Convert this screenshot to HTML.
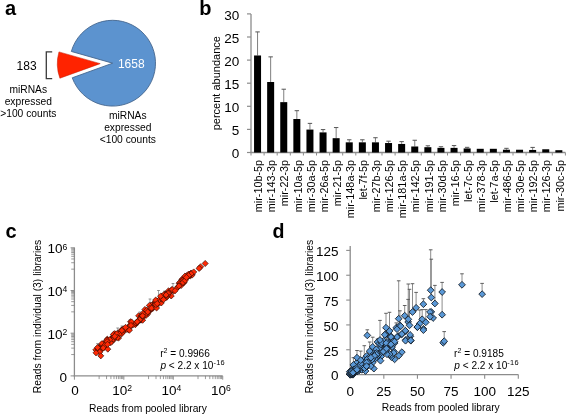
<!DOCTYPE html>
<html><head><meta charset="utf-8"><style>
html,body{margin:0;padding:0;background:#fff;}
svg{display:block;will-change:transform;}
text{font-family:"Liberation Sans", sans-serif;}
</style></head><body>
<svg width="567" height="415" viewBox="0 0 567 415" font-family="Liberation Sans, sans-serif">
<rect width="567" height="415" fill="#fff"/>
<text x="5" y="15.3" font-size="20" font-weight="bold">a</text>
<path d="M112.60,63.20 L71.34,51.45 A42.9,42.9 0 1 1 72.26,77.80 Z" fill="#5c93cf" stroke="#45668e" stroke-width="0.9"/>
<path d="M100.21,63.63 L58.95,51.89 A42.9,42.9 0 0 0 59.87,78.23 Z" fill="#ff2300" stroke="#c01800" stroke-width="0.5"/>
<text x="131.3" y="68.4" font-size="12" fill="#fff" text-anchor="middle">1658</text>
<text x="26.6" y="69.6" font-size="12" text-anchor="middle">183</text>
<path d="M52.2,51.8 H46.3 V78.6 H52.2" fill="none" stroke="#3a3a3a" stroke-width="1.3"/>
<text x="28.3" y="93.4" font-size="10.25" text-anchor="middle">miRNAs</text>
<text x="28.3" y="105.4" font-size="10.25" text-anchor="middle">expressed</text>
<text x="28.3" y="117.4" font-size="10.25" text-anchor="middle">&gt;100 counts</text>
<text x="127.8" y="119.3" font-size="10.25" text-anchor="middle">miRNAs</text>
<text x="127.8" y="131.15" font-size="10.25" text-anchor="middle">expressed</text>
<text x="127.8" y="143.0" font-size="10.25" text-anchor="middle">&lt;100 counts</text>
<text x="199.3" y="15.4" font-size="20" font-weight="bold">b</text>
<line x1="251.0" y1="13.90" x2="251.0" y2="153.0" stroke="#8c8c8c" stroke-width="1.3"/>
<line x1="250.4" y1="152.5" x2="565.40" y2="152.5" stroke="#8c8c8c" stroke-width="1.3"/>
<line x1="247.0" y1="152.50" x2="251.0" y2="152.50" stroke="#8c8c8c" stroke-width="1.2"/>
<text x="239.2" y="158.10" font-size="13.5" text-anchor="end">0</text>
<line x1="247.0" y1="129.40" x2="251.0" y2="129.40" stroke="#8c8c8c" stroke-width="1.2"/>
<text x="239.2" y="135.00" font-size="13.5" text-anchor="end">5</text>
<line x1="247.0" y1="106.30" x2="251.0" y2="106.30" stroke="#8c8c8c" stroke-width="1.2"/>
<text x="239.2" y="111.90" font-size="13.5" text-anchor="end">10</text>
<line x1="247.0" y1="83.20" x2="251.0" y2="83.20" stroke="#8c8c8c" stroke-width="1.2"/>
<text x="239.2" y="88.80" font-size="13.5" text-anchor="end">15</text>
<line x1="247.0" y1="60.10" x2="251.0" y2="60.10" stroke="#8c8c8c" stroke-width="1.2"/>
<text x="239.2" y="65.70" font-size="13.5" text-anchor="end">20</text>
<line x1="247.0" y1="37.00" x2="251.0" y2="37.00" stroke="#8c8c8c" stroke-width="1.2"/>
<text x="239.2" y="42.60" font-size="13.5" text-anchor="end">25</text>
<line x1="247.0" y1="13.90" x2="251.0" y2="13.90" stroke="#8c8c8c" stroke-width="1.2"/>
<text x="239.2" y="19.50" font-size="13.5" text-anchor="end">30</text>
<line x1="251.00" y1="152.5" x2="251.00" y2="155.5" stroke="#8c8c8c" stroke-width="1"/>
<line x1="264.10" y1="152.5" x2="264.10" y2="155.5" stroke="#8c8c8c" stroke-width="1"/>
<line x1="277.20" y1="152.5" x2="277.20" y2="155.5" stroke="#8c8c8c" stroke-width="1"/>
<line x1="290.30" y1="152.5" x2="290.30" y2="155.5" stroke="#8c8c8c" stroke-width="1"/>
<line x1="303.40" y1="152.5" x2="303.40" y2="155.5" stroke="#8c8c8c" stroke-width="1"/>
<line x1="316.50" y1="152.5" x2="316.50" y2="155.5" stroke="#8c8c8c" stroke-width="1"/>
<line x1="329.60" y1="152.5" x2="329.60" y2="155.5" stroke="#8c8c8c" stroke-width="1"/>
<line x1="342.70" y1="152.5" x2="342.70" y2="155.5" stroke="#8c8c8c" stroke-width="1"/>
<line x1="355.80" y1="152.5" x2="355.80" y2="155.5" stroke="#8c8c8c" stroke-width="1"/>
<line x1="368.90" y1="152.5" x2="368.90" y2="155.5" stroke="#8c8c8c" stroke-width="1"/>
<line x1="382.00" y1="152.5" x2="382.00" y2="155.5" stroke="#8c8c8c" stroke-width="1"/>
<line x1="395.10" y1="152.5" x2="395.10" y2="155.5" stroke="#8c8c8c" stroke-width="1"/>
<line x1="408.20" y1="152.5" x2="408.20" y2="155.5" stroke="#8c8c8c" stroke-width="1"/>
<line x1="421.30" y1="152.5" x2="421.30" y2="155.5" stroke="#8c8c8c" stroke-width="1"/>
<line x1="434.40" y1="152.5" x2="434.40" y2="155.5" stroke="#8c8c8c" stroke-width="1"/>
<line x1="447.50" y1="152.5" x2="447.50" y2="155.5" stroke="#8c8c8c" stroke-width="1"/>
<line x1="460.60" y1="152.5" x2="460.60" y2="155.5" stroke="#8c8c8c" stroke-width="1"/>
<line x1="473.70" y1="152.5" x2="473.70" y2="155.5" stroke="#8c8c8c" stroke-width="1"/>
<line x1="486.80" y1="152.5" x2="486.80" y2="155.5" stroke="#8c8c8c" stroke-width="1"/>
<line x1="499.90" y1="152.5" x2="499.90" y2="155.5" stroke="#8c8c8c" stroke-width="1"/>
<line x1="513.00" y1="152.5" x2="513.00" y2="155.5" stroke="#8c8c8c" stroke-width="1"/>
<line x1="526.10" y1="152.5" x2="526.10" y2="155.5" stroke="#8c8c8c" stroke-width="1"/>
<line x1="539.20" y1="152.5" x2="539.20" y2="155.5" stroke="#8c8c8c" stroke-width="1"/>
<line x1="552.30" y1="152.5" x2="552.30" y2="155.5" stroke="#8c8c8c" stroke-width="1"/>
<line x1="565.40" y1="152.5" x2="565.40" y2="155.5" stroke="#8c8c8c" stroke-width="1"/>
<line x1="257.55" y1="31.92" x2="257.55" y2="55.48" stroke="#7f7f7f" stroke-width="1"/>
<line x1="255.35" y1="31.92" x2="259.75" y2="31.92" stroke="#555" stroke-width="1"/>
<rect x="254.05" y="55.48" width="7.0" height="97.02" fill="#000"/>
<text transform="translate(262.25,160) rotate(-90)" font-size="10.8" text-anchor="end">mir-10b-5p</text>
<line x1="270.65" y1="56.87" x2="270.65" y2="82.00" stroke="#7f7f7f" stroke-width="1"/>
<line x1="268.45" y1="56.87" x2="272.85" y2="56.87" stroke="#555" stroke-width="1"/>
<rect x="267.15" y="82.00" width="7.0" height="70.50" fill="#000"/>
<text transform="translate(275.35,160) rotate(-90)" font-size="10.8" text-anchor="end">mir-143-3p</text>
<line x1="283.75" y1="89.21" x2="283.75" y2="102.14" stroke="#7f7f7f" stroke-width="1"/>
<line x1="281.55" y1="89.21" x2="285.95" y2="89.21" stroke="#555" stroke-width="1"/>
<rect x="280.25" y="102.14" width="7.0" height="50.36" fill="#000"/>
<text transform="translate(288.45,160) rotate(-90)" font-size="10.8" text-anchor="end">mir-22-3p</text>
<line x1="296.85" y1="110.69" x2="296.85" y2="119.00" stroke="#7f7f7f" stroke-width="1"/>
<line x1="294.65" y1="110.69" x2="299.05" y2="110.69" stroke="#555" stroke-width="1"/>
<rect x="293.35" y="119.00" width="7.0" height="33.49" fill="#000"/>
<text transform="translate(301.55,160) rotate(-90)" font-size="10.8" text-anchor="end">mir-10a-5p</text>
<line x1="309.95" y1="123.39" x2="309.95" y2="129.58" stroke="#7f7f7f" stroke-width="1"/>
<line x1="307.75" y1="123.39" x2="312.15" y2="123.39" stroke="#555" stroke-width="1"/>
<rect x="306.45" y="129.58" width="7.0" height="22.92" fill="#000"/>
<text transform="translate(314.65,160) rotate(-90)" font-size="10.8" text-anchor="end">mir-30a-5p</text>
<line x1="323.05" y1="129.58" x2="323.05" y2="132.40" stroke="#7f7f7f" stroke-width="1"/>
<line x1="320.85" y1="129.58" x2="325.25" y2="129.58" stroke="#555" stroke-width="1"/>
<rect x="319.55" y="132.40" width="7.0" height="20.10" fill="#000"/>
<text transform="translate(327.75,160) rotate(-90)" font-size="10.8" text-anchor="end">mir-26a-5p</text>
<line x1="336.15" y1="127.55" x2="336.15" y2="138.18" stroke="#7f7f7f" stroke-width="1"/>
<line x1="333.95" y1="127.55" x2="338.35" y2="127.55" stroke="#555" stroke-width="1"/>
<rect x="332.65" y="138.18" width="7.0" height="14.32" fill="#000"/>
<text transform="translate(340.85,160) rotate(-90)" font-size="10.8" text-anchor="end">mir-21-5p</text>
<line x1="349.25" y1="139.79" x2="349.25" y2="142.34" stroke="#7f7f7f" stroke-width="1"/>
<line x1="347.05" y1="139.79" x2="351.45" y2="139.79" stroke="#555" stroke-width="1"/>
<rect x="345.75" y="142.34" width="7.0" height="10.16" fill="#000"/>
<text transform="translate(353.95,160) rotate(-90)" font-size="10.8" text-anchor="end">mir-148a-3p</text>
<line x1="362.35" y1="139.79" x2="362.35" y2="142.34" stroke="#7f7f7f" stroke-width="1"/>
<line x1="360.15" y1="139.79" x2="364.55" y2="139.79" stroke="#555" stroke-width="1"/>
<rect x="358.85" y="142.34" width="7.0" height="10.16" fill="#000"/>
<text transform="translate(367.05,160) rotate(-90)" font-size="10.8" text-anchor="end">let-7f-5p</text>
<line x1="375.45" y1="137.72" x2="375.45" y2="142.34" stroke="#7f7f7f" stroke-width="1"/>
<line x1="373.25" y1="137.72" x2="377.65" y2="137.72" stroke="#555" stroke-width="1"/>
<rect x="371.95" y="142.34" width="7.0" height="10.16" fill="#000"/>
<text transform="translate(380.15,160) rotate(-90)" font-size="10.8" text-anchor="end">mir-27b-3p</text>
<line x1="388.55" y1="141.18" x2="388.55" y2="143.03" stroke="#7f7f7f" stroke-width="1"/>
<line x1="386.35" y1="141.18" x2="390.75" y2="141.18" stroke="#555" stroke-width="1"/>
<rect x="385.05" y="143.03" width="7.0" height="9.47" fill="#000"/>
<text transform="translate(393.25,160) rotate(-90)" font-size="10.8" text-anchor="end">mir-126-5p</text>
<line x1="401.65" y1="141.64" x2="401.65" y2="143.95" stroke="#7f7f7f" stroke-width="1"/>
<line x1="399.45" y1="141.64" x2="403.85" y2="141.64" stroke="#555" stroke-width="1"/>
<rect x="398.15" y="143.95" width="7.0" height="8.55" fill="#000"/>
<text transform="translate(406.35,160) rotate(-90)" font-size="10.8" text-anchor="end">mir-181a-5p</text>
<line x1="414.75" y1="140.26" x2="414.75" y2="146.49" stroke="#7f7f7f" stroke-width="1"/>
<line x1="412.55" y1="140.26" x2="416.95" y2="140.26" stroke="#555" stroke-width="1"/>
<rect x="411.25" y="146.49" width="7.0" height="6.01" fill="#000"/>
<text transform="translate(419.45,160) rotate(-90)" font-size="10.8" text-anchor="end">mir-142-5p</text>
<line x1="427.85" y1="145.80" x2="427.85" y2="147.19" stroke="#7f7f7f" stroke-width="1"/>
<line x1="425.65" y1="145.80" x2="430.05" y2="145.80" stroke="#555" stroke-width="1"/>
<rect x="424.35" y="147.19" width="7.0" height="5.31" fill="#000"/>
<text transform="translate(432.55,160) rotate(-90)" font-size="10.8" text-anchor="end">mir-191-5p</text>
<line x1="440.95" y1="146.72" x2="440.95" y2="147.88" stroke="#7f7f7f" stroke-width="1"/>
<line x1="438.75" y1="146.72" x2="443.15" y2="146.72" stroke="#555" stroke-width="1"/>
<rect x="437.45" y="147.88" width="7.0" height="4.62" fill="#000"/>
<text transform="translate(445.65,160) rotate(-90)" font-size="10.8" text-anchor="end">mir-30d-5p</text>
<line x1="454.05" y1="145.57" x2="454.05" y2="147.88" stroke="#7f7f7f" stroke-width="1"/>
<line x1="451.85" y1="145.57" x2="456.25" y2="145.57" stroke="#555" stroke-width="1"/>
<rect x="450.55" y="147.88" width="7.0" height="4.62" fill="#000"/>
<text transform="translate(458.75,160) rotate(-90)" font-size="10.8" text-anchor="end">mir-16-5p</text>
<line x1="467.15" y1="147.33" x2="467.15" y2="148.43" stroke="#7f7f7f" stroke-width="1"/>
<line x1="464.95" y1="147.33" x2="469.35" y2="147.33" stroke="#555" stroke-width="1"/>
<rect x="463.65" y="148.43" width="7.0" height="4.07" fill="#000"/>
<text transform="translate(471.85,160) rotate(-90)" font-size="10.8" text-anchor="end">let-7c-5p</text>
<rect x="476.75" y="148.80" width="7.0" height="3.70" fill="#000"/>
<text transform="translate(484.95,160) rotate(-90)" font-size="10.8" text-anchor="end">mir-378-3p</text>
<rect x="489.85" y="148.80" width="7.0" height="3.70" fill="#000"/>
<text transform="translate(498.05,160) rotate(-90)" font-size="10.8" text-anchor="end">let-7a-5p</text>
<line x1="506.45" y1="148.34" x2="506.45" y2="149.73" stroke="#7f7f7f" stroke-width="1"/>
<line x1="504.25" y1="148.34" x2="508.65" y2="148.34" stroke="#555" stroke-width="1"/>
<rect x="502.95" y="149.73" width="7.0" height="2.77" fill="#000"/>
<text transform="translate(511.15,160) rotate(-90)" font-size="10.8" text-anchor="end">mir-486-5p</text>
<rect x="516.05" y="149.73" width="7.0" height="2.77" fill="#000"/>
<text transform="translate(524.25,160) rotate(-90)" font-size="10.8" text-anchor="end">mir-30e-5p</text>
<line x1="532.65" y1="147.42" x2="532.65" y2="149.96" stroke="#7f7f7f" stroke-width="1"/>
<line x1="530.45" y1="147.42" x2="534.85" y2="147.42" stroke="#555" stroke-width="1"/>
<rect x="529.15" y="149.96" width="7.0" height="2.54" fill="#000"/>
<text transform="translate(537.35,160) rotate(-90)" font-size="10.8" text-anchor="end">mir-192-5p</text>
<rect x="542.25" y="149.27" width="7.0" height="3.23" fill="#000"/>
<text transform="translate(550.45,160) rotate(-90)" font-size="10.8" text-anchor="end">mir-126-3p</text>
<rect x="555.35" y="150.19" width="7.0" height="2.31" fill="#000"/>
<text transform="translate(563.55,160) rotate(-90)" font-size="10.8" text-anchor="end">mir-30c-5p</text>
<text transform="translate(220.3,83.2) rotate(-90)" font-size="11" text-anchor="middle">percent abundance</text>

<text x="5.5" y="237.6" font-size="20" font-weight="bold">c</text>
<line x1="74.4" y1="247.40" x2="74.4" y2="376.5" stroke="#8c8c8c" stroke-width="1.3"/>
<line x1="73.80000000000001" y1="375.9" x2="222.72" y2="375.9" stroke="#8c8c8c" stroke-width="1.3"/>
<line x1="71.2" y1="354.55" x2="74.4" y2="354.55" stroke="#7a7a7a" stroke-width="0.75"/>
<line x1="99.12" y1="375.9" x2="99.12" y2="379.09999999999997" stroke="#7a7a7a" stroke-width="0.75"/>
<line x1="71.2" y1="348.12" x2="74.4" y2="348.12" stroke="#7a7a7a" stroke-width="0.75"/>
<line x1="106.56" y1="375.9" x2="106.56" y2="379.09999999999997" stroke="#7a7a7a" stroke-width="0.75"/>
<line x1="71.2" y1="344.36" x2="74.4" y2="344.36" stroke="#7a7a7a" stroke-width="0.75"/>
<line x1="110.91" y1="375.9" x2="110.91" y2="379.09999999999997" stroke="#7a7a7a" stroke-width="0.75"/>
<line x1="71.2" y1="341.70" x2="74.4" y2="341.70" stroke="#7a7a7a" stroke-width="0.75"/>
<line x1="114.00" y1="375.9" x2="114.00" y2="379.09999999999997" stroke="#7a7a7a" stroke-width="0.75"/>
<line x1="71.2" y1="339.63" x2="74.4" y2="339.63" stroke="#7a7a7a" stroke-width="0.75"/>
<line x1="116.40" y1="375.9" x2="116.40" y2="379.09999999999997" stroke="#7a7a7a" stroke-width="0.75"/>
<line x1="71.2" y1="337.94" x2="74.4" y2="337.94" stroke="#7a7a7a" stroke-width="0.75"/>
<line x1="118.36" y1="375.9" x2="118.36" y2="379.09999999999997" stroke="#7a7a7a" stroke-width="0.75"/>
<line x1="71.2" y1="336.51" x2="74.4" y2="336.51" stroke="#7a7a7a" stroke-width="0.75"/>
<line x1="120.01" y1="375.9" x2="120.01" y2="379.09999999999997" stroke="#7a7a7a" stroke-width="0.75"/>
<line x1="71.2" y1="335.27" x2="74.4" y2="335.27" stroke="#7a7a7a" stroke-width="0.75"/>
<line x1="121.44" y1="375.9" x2="121.44" y2="379.09999999999997" stroke="#7a7a7a" stroke-width="0.75"/>
<line x1="71.2" y1="334.18" x2="74.4" y2="334.18" stroke="#7a7a7a" stroke-width="0.75"/>
<line x1="122.71" y1="375.9" x2="122.71" y2="379.09999999999997" stroke="#7a7a7a" stroke-width="0.75"/>
<line x1="71.2" y1="311.85" x2="74.4" y2="311.85" stroke="#7a7a7a" stroke-width="0.75"/>
<line x1="148.56" y1="375.9" x2="148.56" y2="379.09999999999997" stroke="#7a7a7a" stroke-width="0.75"/>
<line x1="71.2" y1="305.42" x2="74.4" y2="305.42" stroke="#7a7a7a" stroke-width="0.75"/>
<line x1="156.00" y1="375.9" x2="156.00" y2="379.09999999999997" stroke="#7a7a7a" stroke-width="0.75"/>
<line x1="71.2" y1="301.66" x2="74.4" y2="301.66" stroke="#7a7a7a" stroke-width="0.75"/>
<line x1="160.35" y1="375.9" x2="160.35" y2="379.09999999999997" stroke="#7a7a7a" stroke-width="0.75"/>
<line x1="71.2" y1="299.00" x2="74.4" y2="299.00" stroke="#7a7a7a" stroke-width="0.75"/>
<line x1="163.44" y1="375.9" x2="163.44" y2="379.09999999999997" stroke="#7a7a7a" stroke-width="0.75"/>
<line x1="71.2" y1="296.93" x2="74.4" y2="296.93" stroke="#7a7a7a" stroke-width="0.75"/>
<line x1="165.84" y1="375.9" x2="165.84" y2="379.09999999999997" stroke="#7a7a7a" stroke-width="0.75"/>
<line x1="71.2" y1="295.24" x2="74.4" y2="295.24" stroke="#7a7a7a" stroke-width="0.75"/>
<line x1="167.80" y1="375.9" x2="167.80" y2="379.09999999999997" stroke="#7a7a7a" stroke-width="0.75"/>
<line x1="71.2" y1="293.81" x2="74.4" y2="293.81" stroke="#7a7a7a" stroke-width="0.75"/>
<line x1="169.45" y1="375.9" x2="169.45" y2="379.09999999999997" stroke="#7a7a7a" stroke-width="0.75"/>
<line x1="71.2" y1="292.57" x2="74.4" y2="292.57" stroke="#7a7a7a" stroke-width="0.75"/>
<line x1="170.88" y1="375.9" x2="170.88" y2="379.09999999999997" stroke="#7a7a7a" stroke-width="0.75"/>
<line x1="71.2" y1="291.48" x2="74.4" y2="291.48" stroke="#7a7a7a" stroke-width="0.75"/>
<line x1="172.15" y1="375.9" x2="172.15" y2="379.09999999999997" stroke="#7a7a7a" stroke-width="0.75"/>
<line x1="71.2" y1="269.15" x2="74.4" y2="269.15" stroke="#7a7a7a" stroke-width="0.75"/>
<line x1="198.00" y1="375.9" x2="198.00" y2="379.09999999999997" stroke="#7a7a7a" stroke-width="0.75"/>
<line x1="71.2" y1="262.72" x2="74.4" y2="262.72" stroke="#7a7a7a" stroke-width="0.75"/>
<line x1="205.44" y1="375.9" x2="205.44" y2="379.09999999999997" stroke="#7a7a7a" stroke-width="0.75"/>
<line x1="71.2" y1="258.96" x2="74.4" y2="258.96" stroke="#7a7a7a" stroke-width="0.75"/>
<line x1="209.79" y1="375.9" x2="209.79" y2="379.09999999999997" stroke="#7a7a7a" stroke-width="0.75"/>
<line x1="71.2" y1="256.30" x2="74.4" y2="256.30" stroke="#7a7a7a" stroke-width="0.75"/>
<line x1="212.88" y1="375.9" x2="212.88" y2="379.09999999999997" stroke="#7a7a7a" stroke-width="0.75"/>
<line x1="71.2" y1="254.23" x2="74.4" y2="254.23" stroke="#7a7a7a" stroke-width="0.75"/>
<line x1="215.28" y1="375.9" x2="215.28" y2="379.09999999999997" stroke="#7a7a7a" stroke-width="0.75"/>
<line x1="71.2" y1="252.54" x2="74.4" y2="252.54" stroke="#7a7a7a" stroke-width="0.75"/>
<line x1="217.24" y1="375.9" x2="217.24" y2="379.09999999999997" stroke="#7a7a7a" stroke-width="0.75"/>
<line x1="71.2" y1="251.11" x2="74.4" y2="251.11" stroke="#7a7a7a" stroke-width="0.75"/>
<line x1="218.89" y1="375.9" x2="218.89" y2="379.09999999999997" stroke="#7a7a7a" stroke-width="0.75"/>
<line x1="71.2" y1="249.87" x2="74.4" y2="249.87" stroke="#7a7a7a" stroke-width="0.75"/>
<line x1="220.32" y1="375.9" x2="220.32" y2="379.09999999999997" stroke="#7a7a7a" stroke-width="0.75"/>
<line x1="71.2" y1="248.78" x2="74.4" y2="248.78" stroke="#7a7a7a" stroke-width="0.75"/>
<line x1="221.59" y1="375.9" x2="221.59" y2="379.09999999999997" stroke="#7a7a7a" stroke-width="0.75"/>
<line x1="70.60000000000001" y1="375.90" x2="74.4" y2="375.90" stroke="#8c8c8c" stroke-width="1"/>
<line x1="74.40" y1="375.9" x2="74.40" y2="379.7" stroke="#8c8c8c" stroke-width="1"/>
<line x1="70.60000000000001" y1="333.20" x2="74.4" y2="333.20" stroke="#8c8c8c" stroke-width="1"/>
<line x1="123.84" y1="375.9" x2="123.84" y2="379.7" stroke="#8c8c8c" stroke-width="1"/>
<line x1="70.60000000000001" y1="290.50" x2="74.4" y2="290.50" stroke="#8c8c8c" stroke-width="1"/>
<line x1="173.28" y1="375.9" x2="173.28" y2="379.7" stroke="#8c8c8c" stroke-width="1"/>
<line x1="70.60000000000001" y1="247.80" x2="74.4" y2="247.80" stroke="#8c8c8c" stroke-width="1"/>
<line x1="222.72" y1="375.9" x2="222.72" y2="379.7" stroke="#8c8c8c" stroke-width="1"/>
<text x="67" y="381.70" font-size="13.5" text-anchor="end">0</text>
<text x="67.3" y="338.80" font-size="13.5" text-anchor="end">10<tspan font-size="8.6" dy="-3.9">2</tspan></text>
<text x="67.3" y="296.10" font-size="13.5" text-anchor="end">10<tspan font-size="8.6" dy="-3.9">4</tspan></text>
<text x="67.3" y="253.40" font-size="13.5" text-anchor="end">10<tspan font-size="8.6" dy="-3.9">6</tspan></text>
<text x="74.90" y="394.9" font-size="13.5" text-anchor="middle">0</text>
<text x="122.04" y="394.9" font-size="13.5" text-anchor="middle">10<tspan font-size="8.6" dy="-3.9">2</tspan></text>
<text x="171.48" y="394.9" font-size="13.5" text-anchor="middle">10<tspan font-size="8.6" dy="-3.9">4</tspan></text>
<text x="220.92" y="394.9" font-size="13.5" text-anchor="middle">10<tspan font-size="8.6" dy="-3.9">6</tspan></text>
<text transform="translate(40.6,316.5) rotate(-90)" font-size="10.3" text-anchor="middle">Reads from individual (3) libraries</text>
<text x="148" y="411.6" font-size="10.3" text-anchor="middle">Reads from pooled library</text>
<text x="160.2" y="356.6" font-size="10.1">r<tspan font-size="7" dy="-3.2">2</tspan><tspan dy="3.2"> = 0.9966</tspan></text>
<text x="160.4" y="368.5" font-size="10.1"><tspan font-style="italic">p</tspan> &lt; 2.2 x 10<tspan font-size="7.4" dy="-3.6" letter-spacing="0.25">-16</tspan></text>
<line x1="97.5" y1="343.7" x2="97.5" y2="347.6" stroke="#808080" stroke-width="0.7"/>
<line x1="96.1" y1="343.7" x2="98.9" y2="343.7" stroke="#666" stroke-width="0.7"/>
<line x1="103.3" y1="342.3" x2="103.3" y2="348.0" stroke="#808080" stroke-width="0.7"/>
<line x1="101.9" y1="342.3" x2="104.7" y2="342.3" stroke="#666" stroke-width="0.7"/>
<line x1="109.9" y1="338.6" x2="109.9" y2="341.3" stroke="#808080" stroke-width="0.7"/>
<line x1="108.5" y1="338.6" x2="111.3" y2="338.6" stroke="#666" stroke-width="0.7"/>
<line x1="117.7" y1="328.0" x2="117.7" y2="335.3" stroke="#808080" stroke-width="0.7"/>
<line x1="116.3" y1="328.0" x2="119.1" y2="328.0" stroke="#666" stroke-width="0.7"/>
<line x1="158.5" y1="290.5" x2="158.5" y2="296.0" stroke="#808080" stroke-width="0.7"/>
<line x1="157.1" y1="290.5" x2="159.9" y2="290.5" stroke="#666" stroke-width="0.7"/>
<line x1="164.6" y1="291.2" x2="164.6" y2="298.0" stroke="#808080" stroke-width="0.7"/>
<line x1="163.2" y1="291.2" x2="166.0" y2="291.2" stroke="#666" stroke-width="0.7"/>
<line x1="173.0" y1="283.5" x2="173.0" y2="289.0" stroke="#808080" stroke-width="0.7"/>
<line x1="171.6" y1="283.5" x2="174.4" y2="283.5" stroke="#666" stroke-width="0.7"/>
<line x1="150.0" y1="299.0" x2="150.0" y2="306.0" stroke="#808080" stroke-width="0.7"/>
<line x1="148.6" y1="299.0" x2="151.4" y2="299.0" stroke="#666" stroke-width="0.7"/>
<line x1="186.0" y1="275.0" x2="186.0" y2="280.0" stroke="#808080" stroke-width="0.7"/>
<line x1="184.6" y1="275.0" x2="187.4" y2="275.0" stroke="#666" stroke-width="0.7"/>
<line x1="140.0" y1="312.0" x2="140.0" y2="318.0" stroke="#808080" stroke-width="0.7"/>
<line x1="138.6" y1="312.0" x2="141.4" y2="312.0" stroke="#666" stroke-width="0.7"/>
<line x1="130.0" y1="320.0" x2="130.0" y2="326.0" stroke="#808080" stroke-width="0.7"/>
<line x1="128.6" y1="320.0" x2="131.4" y2="320.0" stroke="#666" stroke-width="0.7"/>
<line x1="122.0" y1="326.0" x2="122.0" y2="332.0" stroke="#808080" stroke-width="0.7"/>
<line x1="120.6" y1="326.0" x2="123.4" y2="326.0" stroke="#666" stroke-width="0.7"/>
<line x1="112.0" y1="335.0" x2="112.0" y2="339.0" stroke="#808080" stroke-width="0.7"/>
<line x1="110.6" y1="335.0" x2="113.4" y2="335.0" stroke="#666" stroke-width="0.7"/>
<path d="M138.6,312.7L141.7,315.8L138.6,318.8L135.6,315.8Z" fill="#ff2a05" stroke="#2e0a02" stroke-width="0.65"/>
<path d="M141.0,313.1L144.1,316.1L141.0,319.2L138.0,316.1Z" fill="#ff2a05" stroke="#2e0a02" stroke-width="0.65"/>
<path d="M145.0,309.7L148.0,312.8L145.0,315.8L141.9,312.8Z" fill="#ff2a05" stroke="#2e0a02" stroke-width="0.65"/>
<path d="M145.5,309.6L148.6,312.6L145.5,315.7L142.5,312.6Z" fill="#ff2a05" stroke="#2e0a02" stroke-width="0.65"/>
<path d="M156.6,300.1L159.7,303.2L156.6,306.2L153.6,303.2Z" fill="#ff2a05" stroke="#2e0a02" stroke-width="0.65"/>
<path d="M125.6,326.0L128.7,329.1L125.6,332.1L122.6,329.1Z" fill="#ff2a05" stroke="#2e0a02" stroke-width="0.65"/>
<path d="M105.3,342.7L108.4,345.8L105.3,348.8L102.3,345.8Z" fill="#ff2a05" stroke="#2e0a02" stroke-width="0.65"/>
<path d="M98.9,344.4L101.9,347.4L98.9,350.5L95.8,347.4Z" fill="#ff2a05" stroke="#2e0a02" stroke-width="0.65"/>
<path d="M190.4,272.8L193.5,275.8L190.4,278.9L187.4,275.8Z" fill="#ff2a05" stroke="#2e0a02" stroke-width="0.65"/>
<path d="M154.8,300.7L157.9,303.8L154.8,306.8L151.8,303.8Z" fill="#ff2a05" stroke="#2e0a02" stroke-width="0.65"/>
<path d="M112.2,338.1L115.3,341.1L112.2,344.2L109.2,341.1Z" fill="#ff2a05" stroke="#2e0a02" stroke-width="0.65"/>
<path d="M102.0,344.7L105.0,347.8L102.0,350.8L98.9,347.8Z" fill="#ff2a05" stroke="#2e0a02" stroke-width="0.65"/>
<path d="M114.1,334.0L117.2,337.0L114.1,340.1L111.1,337.0Z" fill="#ff2a05" stroke="#2e0a02" stroke-width="0.65"/>
<path d="M141.9,314.5L144.9,317.5L141.9,320.6L138.8,317.5Z" fill="#ff2a05" stroke="#2e0a02" stroke-width="0.65"/>
<path d="M140.1,316.9L143.2,320.0L140.1,323.0L137.1,320.0Z" fill="#ff2a05" stroke="#2e0a02" stroke-width="0.65"/>
<path d="M156.6,298.0L159.6,301.0L156.6,304.1L153.5,301.0Z" fill="#ff2a05" stroke="#2e0a02" stroke-width="0.65"/>
<path d="M144.2,310.4L147.3,313.4L144.2,316.5L141.2,313.4Z" fill="#ff2a05" stroke="#2e0a02" stroke-width="0.65"/>
<path d="M122.4,327.0L125.5,330.1L122.4,333.1L119.4,330.1Z" fill="#ff2a05" stroke="#2e0a02" stroke-width="0.65"/>
<path d="M192.2,271.9L195.3,275.0L192.2,278.0L189.2,275.0Z" fill="#ff2a05" stroke="#2e0a02" stroke-width="0.65"/>
<path d="M164.1,293.9L167.1,297.0L164.1,300.0L161.0,297.0Z" fill="#ff2a05" stroke="#2e0a02" stroke-width="0.65"/>
<path d="M127.4,325.9L130.4,328.9L127.4,332.0L124.3,328.9Z" fill="#ff2a05" stroke="#2e0a02" stroke-width="0.65"/>
<path d="M103.7,344.7L106.7,347.7L103.7,350.8L100.6,347.7Z" fill="#ff2a05" stroke="#2e0a02" stroke-width="0.65"/>
<path d="M168.5,287.8L171.5,290.9L168.5,293.9L165.4,290.9Z" fill="#ff2a05" stroke="#2e0a02" stroke-width="0.65"/>
<path d="M135.3,321.7L138.4,324.7L135.3,327.8L132.3,324.7Z" fill="#ff2a05" stroke="#2e0a02" stroke-width="0.65"/>
<path d="M187.3,273.7L190.4,276.7L187.3,279.8L184.3,276.7Z" fill="#ff2a05" stroke="#2e0a02" stroke-width="0.65"/>
<path d="M116.0,332.5L119.1,335.5L116.0,338.6L113.0,335.5Z" fill="#ff2a05" stroke="#2e0a02" stroke-width="0.65"/>
<path d="M181.9,276.3L185.0,279.3L181.9,282.4L178.9,279.3Z" fill="#ff2a05" stroke="#2e0a02" stroke-width="0.65"/>
<path d="M135.8,320.1L138.9,323.2L135.8,326.2L132.8,323.2Z" fill="#ff2a05" stroke="#2e0a02" stroke-width="0.65"/>
<path d="M102.0,342.1L105.1,345.2L102.0,348.2L99.0,345.2Z" fill="#ff2a05" stroke="#2e0a02" stroke-width="0.65"/>
<path d="M121.3,327.2L124.3,330.2L121.3,333.3L118.2,330.2Z" fill="#ff2a05" stroke="#2e0a02" stroke-width="0.65"/>
<path d="M103.3,340.9L106.3,343.9L103.3,347.0L100.2,343.9Z" fill="#ff2a05" stroke="#2e0a02" stroke-width="0.65"/>
<path d="M171.2,292.9L174.3,295.9L171.2,299.0L168.2,295.9Z" fill="#ff2a05" stroke="#2e0a02" stroke-width="0.65"/>
<path d="M107.4,339.9L110.4,342.9L107.4,346.0L104.3,342.9Z" fill="#ff2a05" stroke="#2e0a02" stroke-width="0.65"/>
<path d="M102.4,345.1L105.4,348.2L102.4,351.2L99.3,348.2Z" fill="#ff2a05" stroke="#2e0a02" stroke-width="0.65"/>
<path d="M173.6,288.1L176.6,291.2L173.6,294.2L170.5,291.2Z" fill="#ff2a05" stroke="#2e0a02" stroke-width="0.65"/>
<path d="M141.2,316.9L144.3,320.0L141.2,323.0L138.2,320.0Z" fill="#ff2a05" stroke="#2e0a02" stroke-width="0.65"/>
<path d="M114.1,333.9L117.2,336.9L114.1,340.0L111.1,336.9Z" fill="#ff2a05" stroke="#2e0a02" stroke-width="0.65"/>
<path d="M157.4,298.3L160.4,301.3L157.4,304.4L154.3,301.3Z" fill="#ff2a05" stroke="#2e0a02" stroke-width="0.65"/>
<path d="M106.6,339.3L109.7,342.3L106.6,345.4L103.6,342.3Z" fill="#ff2a05" stroke="#2e0a02" stroke-width="0.65"/>
<path d="M122.8,329.1L125.8,332.1L122.8,335.2L119.7,332.1Z" fill="#ff2a05" stroke="#2e0a02" stroke-width="0.65"/>
<path d="M188.7,272.9L191.8,275.9L188.7,279.0L185.7,275.9Z" fill="#ff2a05" stroke="#2e0a02" stroke-width="0.65"/>
<path d="M180.9,279.9L183.9,282.9L180.9,286.0L177.8,282.9Z" fill="#ff2a05" stroke="#2e0a02" stroke-width="0.65"/>
<path d="M114.7,330.6L117.7,333.7L114.7,336.7L111.6,333.7Z" fill="#ff2a05" stroke="#2e0a02" stroke-width="0.65"/>
<path d="M158.8,300.5L161.9,303.5L158.8,306.6L155.8,303.5Z" fill="#ff2a05" stroke="#2e0a02" stroke-width="0.65"/>
<path d="M106.4,342.1L109.4,345.1L106.4,348.2L103.3,345.1Z" fill="#ff2a05" stroke="#2e0a02" stroke-width="0.65"/>
<path d="M121.2,329.4L124.2,332.4L121.2,335.5L118.1,332.4Z" fill="#ff2a05" stroke="#2e0a02" stroke-width="0.65"/>
<path d="M170.2,288.7L173.3,291.8L170.2,294.8L167.2,291.8Z" fill="#ff2a05" stroke="#2e0a02" stroke-width="0.65"/>
<path d="M103.9,344.3L106.9,347.4L103.9,350.4L100.8,347.4Z" fill="#ff2a05" stroke="#2e0a02" stroke-width="0.65"/>
<path d="M104.1,341.4L107.2,344.4L104.1,347.5L101.1,344.4Z" fill="#ff2a05" stroke="#2e0a02" stroke-width="0.65"/>
<path d="M153.4,301.8L156.4,304.8L153.4,307.9L150.3,304.8Z" fill="#ff2a05" stroke="#2e0a02" stroke-width="0.65"/>
<path d="M130.5,318.7L133.6,321.7L130.5,324.8L127.5,321.7Z" fill="#ff2a05" stroke="#2e0a02" stroke-width="0.65"/>
<path d="M144.1,313.3L147.1,316.4L144.1,319.4L141.0,316.4Z" fill="#ff2a05" stroke="#2e0a02" stroke-width="0.65"/>
<path d="M151.8,305.0L154.8,308.0L151.8,311.1L148.7,308.0Z" fill="#ff2a05" stroke="#2e0a02" stroke-width="0.65"/>
<path d="M110.3,336.4L113.4,339.4L110.3,342.5L107.3,339.4Z" fill="#ff2a05" stroke="#2e0a02" stroke-width="0.65"/>
<path d="M183.3,278.4L186.4,281.4L183.3,284.5L180.3,281.4Z" fill="#ff2a05" stroke="#2e0a02" stroke-width="0.65"/>
<path d="M113.4,333.2L116.5,336.2L113.4,339.3L110.4,336.2Z" fill="#ff2a05" stroke="#2e0a02" stroke-width="0.65"/>
<path d="M167.8,292.3L170.9,295.4L167.8,298.4L164.8,295.4Z" fill="#ff2a05" stroke="#2e0a02" stroke-width="0.65"/>
<path d="M186.4,274.1L189.5,277.1L186.4,280.2L183.4,277.1Z" fill="#ff2a05" stroke="#2e0a02" stroke-width="0.65"/>
<path d="M180.6,280.1L183.7,283.2L180.6,286.2L177.6,283.2Z" fill="#ff2a05" stroke="#2e0a02" stroke-width="0.65"/>
<path d="M105.4,340.3L108.5,343.3L105.4,346.4L102.4,343.3Z" fill="#ff2a05" stroke="#2e0a02" stroke-width="0.65"/>
<path d="M100.6,347.1L103.7,350.2L100.6,353.2L97.6,350.2Z" fill="#ff2a05" stroke="#2e0a02" stroke-width="0.65"/>
<path d="M163.6,294.0L166.7,297.1L163.6,300.1L160.6,297.1Z" fill="#ff2a05" stroke="#2e0a02" stroke-width="0.65"/>
<path d="M121.7,330.2L124.7,333.2L121.7,336.3L118.6,333.2Z" fill="#ff2a05" stroke="#2e0a02" stroke-width="0.65"/>
<path d="M123.8,325.8L126.9,328.8L123.8,331.9L120.8,328.8Z" fill="#ff2a05" stroke="#2e0a02" stroke-width="0.65"/>
<path d="M112.7,335.1L115.7,338.1L112.7,341.2L109.6,338.1Z" fill="#ff2a05" stroke="#2e0a02" stroke-width="0.65"/>
<path d="M117.7,330.9L120.7,333.9L117.7,337.0L114.6,333.9Z" fill="#ff2a05" stroke="#2e0a02" stroke-width="0.65"/>
<path d="M150.8,306.8L153.9,309.8L150.8,312.9L147.8,309.8Z" fill="#ff2a05" stroke="#2e0a02" stroke-width="0.65"/>
<path d="M122.5,326.7L125.6,329.8L122.5,332.8L119.5,329.8Z" fill="#ff2a05" stroke="#2e0a02" stroke-width="0.65"/>
<path d="M183.9,277.4L187.0,280.4L183.9,283.5L180.9,280.4Z" fill="#ff2a05" stroke="#2e0a02" stroke-width="0.65"/>
<path d="M122.5,328.9L125.6,332.0L122.5,335.0L119.5,332.0Z" fill="#ff2a05" stroke="#2e0a02" stroke-width="0.65"/>
<path d="M140.5,316.4L143.6,319.5L140.5,322.5L137.5,319.5Z" fill="#ff2a05" stroke="#2e0a02" stroke-width="0.65"/>
<path d="M132.8,322.0L135.8,325.0L132.8,328.1L129.7,325.0Z" fill="#ff2a05" stroke="#2e0a02" stroke-width="0.65"/>
<path d="M151.8,305.5L154.8,308.5L151.8,311.6L148.7,308.5Z" fill="#ff2a05" stroke="#2e0a02" stroke-width="0.65"/>
<path d="M182.1,280.3L185.2,283.3L182.1,286.4L179.1,283.3Z" fill="#ff2a05" stroke="#2e0a02" stroke-width="0.65"/>
<path d="M189.1,271.5L192.2,274.5L189.1,277.6L186.1,274.5Z" fill="#ff2a05" stroke="#2e0a02" stroke-width="0.65"/>
<path d="M151.0,302.1L154.1,305.2L151.0,308.2L148.0,305.2Z" fill="#ff2a05" stroke="#2e0a02" stroke-width="0.65"/>
<path d="M109.6,338.2L112.7,341.3L109.6,344.3L106.6,341.3Z" fill="#ff2a05" stroke="#2e0a02" stroke-width="0.65"/>
<path d="M183.3,278.0L186.4,281.1L183.3,284.1L180.3,281.1Z" fill="#ff2a05" stroke="#2e0a02" stroke-width="0.65"/>
<path d="M163.6,294.7L166.7,297.8L163.6,300.8L160.6,297.8Z" fill="#ff2a05" stroke="#2e0a02" stroke-width="0.65"/>
<path d="M157.1,299.4L160.1,302.5L157.1,305.5L154.0,302.5Z" fill="#ff2a05" stroke="#2e0a02" stroke-width="0.65"/>
<path d="M143.2,312.5L146.2,315.5L143.2,318.6L140.1,315.5Z" fill="#ff2a05" stroke="#2e0a02" stroke-width="0.65"/>
<path d="M191.0,270.1L194.0,273.1L191.0,276.2L187.9,273.1Z" fill="#ff2a05" stroke="#2e0a02" stroke-width="0.65"/>
<path d="M101.9,341.5L104.9,344.5L101.9,347.6L98.8,344.5Z" fill="#ff2a05" stroke="#2e0a02" stroke-width="0.65"/>
<path d="M182.3,278.7L185.3,281.7L182.3,284.8L179.2,281.7Z" fill="#ff2a05" stroke="#2e0a02" stroke-width="0.65"/>
<path d="M166.5,291.2L169.6,294.2L166.5,297.3L163.5,294.2Z" fill="#ff2a05" stroke="#2e0a02" stroke-width="0.65"/>
<path d="M182.8,276.5L185.9,279.5L182.8,282.6L179.8,279.5Z" fill="#ff2a05" stroke="#2e0a02" stroke-width="0.65"/>
<path d="M130.1,322.0L133.1,325.1L130.1,328.1L127.0,325.1Z" fill="#ff2a05" stroke="#2e0a02" stroke-width="0.65"/>
<path d="M179.2,280.5L182.2,283.5L179.2,286.6L176.1,283.5Z" fill="#ff2a05" stroke="#2e0a02" stroke-width="0.65"/>
<path d="M137.7,318.5L140.8,321.6L137.7,324.6L134.7,321.6Z" fill="#ff2a05" stroke="#2e0a02" stroke-width="0.65"/>
<path d="M149.4,302.4L152.4,305.4L149.4,308.5L146.3,305.4Z" fill="#ff2a05" stroke="#2e0a02" stroke-width="0.65"/>
<path d="M155.1,299.2L158.2,302.3L155.1,305.3L152.1,302.3Z" fill="#ff2a05" stroke="#2e0a02" stroke-width="0.65"/>
<path d="M155.3,302.6L158.4,305.7L155.3,308.7L152.3,305.7Z" fill="#ff2a05" stroke="#2e0a02" stroke-width="0.65"/>
<path d="M101.9,340.6L105.0,343.6L101.9,346.7L98.9,343.6Z" fill="#ff2a05" stroke="#2e0a02" stroke-width="0.65"/>
<path d="M179.6,279.4L182.7,282.4L179.6,285.5L176.6,282.4Z" fill="#ff2a05" stroke="#2e0a02" stroke-width="0.65"/>
<path d="M164.9,290.9L168.0,294.0L164.9,297.0L161.9,294.0Z" fill="#ff2a05" stroke="#2e0a02" stroke-width="0.65"/>
<path d="M152.9,305.2L156.0,308.2L152.9,311.3L149.9,308.2Z" fill="#ff2a05" stroke="#2e0a02" stroke-width="0.65"/>
<path d="M139.7,316.4L142.7,319.4L139.7,322.5L136.6,319.4Z" fill="#ff2a05" stroke="#2e0a02" stroke-width="0.65"/>
<path d="M168.0,290.4L171.0,293.4L168.0,296.5L164.9,293.4Z" fill="#ff2a05" stroke="#2e0a02" stroke-width="0.65"/>
<path d="M98.2,345.9L101.3,349.0L98.2,352.0L95.2,349.0Z" fill="#ff2a05" stroke="#2e0a02" stroke-width="0.65"/>
<path d="M117.6,330.4L120.6,333.4L117.6,336.5L114.5,333.4Z" fill="#ff2a05" stroke="#2e0a02" stroke-width="0.65"/>
<path d="M161.9,293.1L164.9,296.1L161.9,299.2L158.8,296.1Z" fill="#ff2a05" stroke="#2e0a02" stroke-width="0.65"/>
<path d="M184.1,277.0L187.2,280.1L184.1,283.1L181.1,280.1Z" fill="#ff2a05" stroke="#2e0a02" stroke-width="0.65"/>
<path d="M121.8,330.6L124.8,333.6L121.8,336.7L118.7,333.6Z" fill="#ff2a05" stroke="#2e0a02" stroke-width="0.65"/>
<path d="M161.3,296.3L164.3,299.4L161.3,302.4L158.2,299.4Z" fill="#ff2a05" stroke="#2e0a02" stroke-width="0.65"/>
<path d="M116.3,334.2L119.3,337.2L116.3,340.3L113.2,337.2Z" fill="#ff2a05" stroke="#2e0a02" stroke-width="0.65"/>
<path d="M161.3,299.9L164.3,302.9L161.3,306.0L158.2,302.9Z" fill="#ff2a05" stroke="#2e0a02" stroke-width="0.65"/>
<path d="M140.3,316.8L143.3,319.9L140.3,322.9L137.2,319.9Z" fill="#ff2a05" stroke="#2e0a02" stroke-width="0.65"/>
<path d="M159.5,296.5L162.5,299.6L159.5,302.6L156.4,299.6Z" fill="#ff2a05" stroke="#2e0a02" stroke-width="0.65"/>
<path d="M113.4,331.4L116.4,334.4L113.4,337.5L110.3,334.4Z" fill="#ff2a05" stroke="#2e0a02" stroke-width="0.65"/>
<path d="M184.0,278.1L187.1,281.1L184.0,284.2L181.0,281.1Z" fill="#ff2a05" stroke="#2e0a02" stroke-width="0.65"/>
<path d="M180.4,280.2L183.5,283.3L180.4,286.3L177.4,283.3Z" fill="#ff2a05" stroke="#2e0a02" stroke-width="0.65"/>
<path d="M128.3,326.7L131.3,329.8L128.3,332.8L125.2,329.8Z" fill="#ff2a05" stroke="#2e0a02" stroke-width="0.65"/>
<path d="M107.3,336.1L110.3,339.2L107.3,342.2L104.2,339.2Z" fill="#ff2a05" stroke="#2e0a02" stroke-width="0.65"/>
<path d="M178.3,283.8L181.4,286.8L178.3,289.9L175.3,286.8Z" fill="#ff2a05" stroke="#2e0a02" stroke-width="0.65"/>
<path d="M165.2,294.6L168.2,297.6L165.2,300.7L162.1,297.6Z" fill="#ff2a05" stroke="#2e0a02" stroke-width="0.65"/>
<path d="M111.9,335.4L115.0,338.4L111.9,341.5L108.9,338.4Z" fill="#ff2a05" stroke="#2e0a02" stroke-width="0.65"/>
<path d="M140.4,315.2L143.4,318.3L140.4,321.3L137.3,318.3Z" fill="#ff2a05" stroke="#2e0a02" stroke-width="0.65"/>
<path d="M137.6,319.0L140.6,322.1L137.6,325.1L134.5,322.1Z" fill="#ff2a05" stroke="#2e0a02" stroke-width="0.65"/>
<path d="M155.3,299.3L158.4,302.3L155.3,305.4L152.3,302.3Z" fill="#ff2a05" stroke="#2e0a02" stroke-width="0.65"/>
<path d="M177.3,284.5L180.4,287.5L177.3,290.6L174.3,287.5Z" fill="#ff2a05" stroke="#2e0a02" stroke-width="0.65"/>
<path d="M189.5,271.6L192.6,274.7L189.5,277.7L186.5,274.7Z" fill="#ff2a05" stroke="#2e0a02" stroke-width="0.65"/>
<path d="M99.4,347.0L102.4,350.1L99.4,353.1L96.3,350.1Z" fill="#ff2a05" stroke="#2e0a02" stroke-width="0.65"/>
<path d="M181.1,282.5L184.1,285.5L181.1,288.6L178.0,285.5Z" fill="#ff2a05" stroke="#2e0a02" stroke-width="0.65"/>
<path d="M151.4,305.3L154.4,308.4L151.4,311.4L148.3,308.4Z" fill="#ff2a05" stroke="#2e0a02" stroke-width="0.65"/>
<path d="M126.7,326.2L129.7,329.3L126.7,332.3L123.6,329.3Z" fill="#ff2a05" stroke="#2e0a02" stroke-width="0.65"/>
<path d="M108.9,338.2L111.9,341.2L108.9,344.3L105.8,341.2Z" fill="#ff2a05" stroke="#2e0a02" stroke-width="0.65"/>
<path d="M142.6,317.2L145.7,320.2L142.6,323.3L139.6,320.2Z" fill="#ff2a05" stroke="#2e0a02" stroke-width="0.65"/>
<path d="M119.3,331.1L122.3,334.1L119.3,337.2L116.2,334.1Z" fill="#ff2a05" stroke="#2e0a02" stroke-width="0.65"/>
<path d="M110.8,339.6L113.8,342.6L110.8,345.7L107.7,342.6Z" fill="#ff2a05" stroke="#2e0a02" stroke-width="0.65"/>
<path d="M140.5,316.2L143.5,319.2L140.5,322.3L137.4,319.2Z" fill="#ff2a05" stroke="#2e0a02" stroke-width="0.65"/>
<path d="M155.6,298.8L158.6,301.8L155.6,304.9L152.5,301.8Z" fill="#ff2a05" stroke="#2e0a02" stroke-width="0.65"/>
<path d="M186.6,272.7L189.7,275.7L186.6,278.8L183.6,275.7Z" fill="#ff2a05" stroke="#2e0a02" stroke-width="0.65"/>
<path d="M162.2,296.2L165.2,299.2L162.2,302.3L159.1,299.2Z" fill="#ff2a05" stroke="#2e0a02" stroke-width="0.65"/>
<path d="M114.1,336.2L117.1,339.2L114.1,342.3L111.0,339.2Z" fill="#ff2a05" stroke="#2e0a02" stroke-width="0.65"/>
<path d="M95.8,346.8L98.9,349.8L95.8,352.9L92.8,349.8Z" fill="#ff2a05" stroke="#2e0a02" stroke-width="0.65"/>
<path d="M113.3,335.2L116.4,338.2L113.3,341.3L110.3,338.2Z" fill="#ff2a05" stroke="#2e0a02" stroke-width="0.65"/>
<path d="M121.9,327.5L124.9,330.5L121.9,333.6L118.8,330.5Z" fill="#ff2a05" stroke="#2e0a02" stroke-width="0.65"/>
<path d="M147.8,310.7L150.9,313.8L147.8,316.8L144.8,313.8Z" fill="#ff2a05" stroke="#2e0a02" stroke-width="0.65"/>
<path d="M155.1,301.2L158.1,304.3L155.1,307.3L152.0,304.3Z" fill="#ff2a05" stroke="#2e0a02" stroke-width="0.65"/>
<path d="M171.6,286.7L174.7,289.7L171.6,292.8L168.6,289.7Z" fill="#ff2a05" stroke="#2e0a02" stroke-width="0.65"/>
<path d="M184.0,279.6L187.0,282.7L184.0,285.7L180.9,282.7Z" fill="#ff2a05" stroke="#2e0a02" stroke-width="0.65"/>
<path d="M166.7,294.3L169.7,297.3L166.7,300.4L163.6,297.3Z" fill="#ff2a05" stroke="#2e0a02" stroke-width="0.65"/>
<path d="M107.2,337.3L110.3,340.4L107.2,343.4L104.2,340.4Z" fill="#ff2a05" stroke="#2e0a02" stroke-width="0.65"/>
<path d="M183.5,278.3L186.5,281.3L183.5,284.4L180.4,281.3Z" fill="#ff2a05" stroke="#2e0a02" stroke-width="0.65"/>
<path d="M131.6,318.9L134.6,322.0L131.6,325.0L128.5,322.0Z" fill="#ff2a05" stroke="#2e0a02" stroke-width="0.65"/>
<path d="M172.2,286.5L175.3,289.5L172.2,292.6L169.2,289.5Z" fill="#ff2a05" stroke="#2e0a02" stroke-width="0.65"/>
<path d="M185.3,273.9L188.4,276.9L185.3,280.0L182.3,276.9Z" fill="#ff2a05" stroke="#2e0a02" stroke-width="0.65"/>
<path d="M115.8,333.2L118.9,336.2L115.8,339.3L112.8,336.2Z" fill="#ff2a05" stroke="#2e0a02" stroke-width="0.65"/>
<path d="M166.0,293.6L169.1,296.6L166.0,299.7L163.0,296.6Z" fill="#ff2a05" stroke="#2e0a02" stroke-width="0.65"/>
<path d="M163.8,291.7L166.9,294.7L163.8,297.8L160.8,294.7Z" fill="#ff2a05" stroke="#2e0a02" stroke-width="0.65"/>
<path d="M118.6,334.9L121.6,338.0L118.6,341.0L115.5,338.0Z" fill="#ff2a05" stroke="#2e0a02" stroke-width="0.65"/>
<path d="M188.4,271.2L191.5,274.3L188.4,277.3L185.4,274.3Z" fill="#ff2a05" stroke="#2e0a02" stroke-width="0.65"/>
<path d="M148.3,308.1L151.3,311.1L148.3,314.2L145.2,311.1Z" fill="#ff2a05" stroke="#2e0a02" stroke-width="0.65"/>
<path d="M182.9,277.5L185.9,280.5L182.9,283.6L179.8,280.5Z" fill="#ff2a05" stroke="#2e0a02" stroke-width="0.65"/>
<path d="M178.8,283.0L181.9,286.1L178.8,289.1L175.8,286.1Z" fill="#ff2a05" stroke="#2e0a02" stroke-width="0.65"/>
<path d="M139.8,316.5L142.9,319.6L139.8,322.6L136.8,319.6Z" fill="#ff2a05" stroke="#2e0a02" stroke-width="0.65"/>
<path d="M149.4,306.8L152.4,309.8L149.4,312.9L146.3,309.8Z" fill="#ff2a05" stroke="#2e0a02" stroke-width="0.65"/>
<path d="M97.9,345.8L100.9,348.8L97.9,351.9L94.8,348.8Z" fill="#ff2a05" stroke="#2e0a02" stroke-width="0.65"/>
<path d="M175.1,287.6L178.2,290.7L175.1,293.7L172.1,290.7Z" fill="#ff2a05" stroke="#2e0a02" stroke-width="0.65"/>
<path d="M113.2,336.2L116.2,339.2L113.2,342.3L110.1,339.2Z" fill="#ff2a05" stroke="#2e0a02" stroke-width="0.65"/>
<path d="M129.4,324.5L132.4,327.5L129.4,330.6L126.3,327.5Z" fill="#ff2a05" stroke="#2e0a02" stroke-width="0.65"/>
<path d="M109.7,336.7L112.8,339.8L109.7,342.8L106.7,339.8Z" fill="#ff2a05" stroke="#2e0a02" stroke-width="0.65"/>
<path d="M146.0,309.2L149.0,312.3L146.0,315.3L142.9,312.3Z" fill="#ff2a05" stroke="#2e0a02" stroke-width="0.65"/>
<path d="M160.5,293.2L163.6,296.2L160.5,299.3L157.5,296.2Z" fill="#ff2a05" stroke="#2e0a02" stroke-width="0.65"/>
<path d="M184.9,273.1L188.0,276.2L184.9,279.2L181.9,276.2Z" fill="#ff2a05" stroke="#2e0a02" stroke-width="0.65"/>
<path d="M104.5,342.6L107.5,345.6L104.5,348.7L101.4,345.6Z" fill="#ff2a05" stroke="#2e0a02" stroke-width="0.65"/>
<path d="M116.5,330.8L119.6,333.9L116.5,336.9L113.5,333.9Z" fill="#ff2a05" stroke="#2e0a02" stroke-width="0.65"/>
<path d="M166.0,292.2L169.1,295.2L166.0,298.3L163.0,295.2Z" fill="#ff2a05" stroke="#2e0a02" stroke-width="0.65"/>
<path d="M155.6,297.1L158.7,300.1L155.6,303.2L152.6,300.1Z" fill="#ff2a05" stroke="#2e0a02" stroke-width="0.65"/>
<path d="M149.8,305.4L152.9,308.5L149.8,311.5L146.8,308.5Z" fill="#ff2a05" stroke="#2e0a02" stroke-width="0.65"/>
<path d="M125.6,324.3L128.6,327.4L125.6,330.4L122.5,327.4Z" fill="#ff2a05" stroke="#2e0a02" stroke-width="0.65"/>
<path d="M183.2,279.7L186.2,282.8L183.2,285.8L180.1,282.8Z" fill="#ff2a05" stroke="#2e0a02" stroke-width="0.65"/>
<path d="M117.4,334.4L120.4,337.5L117.4,340.5L114.3,337.5Z" fill="#ff2a05" stroke="#2e0a02" stroke-width="0.65"/>
<path d="M144.9,306.4L148.0,309.5L144.9,312.5L141.9,309.5Z" fill="#ff2a05" stroke="#2e0a02" stroke-width="0.65"/>
<path d="M151.6,305.1L154.6,308.1L151.6,311.2L148.5,308.1Z" fill="#ff2a05" stroke="#2e0a02" stroke-width="0.65"/>
<path d="M146.2,312.1L149.3,315.2L146.2,318.2L143.2,315.2Z" fill="#ff2a05" stroke="#2e0a02" stroke-width="0.65"/>
<path d="M156.6,304.9L159.6,308.0L156.6,311.0L153.5,308.0Z" fill="#ff2a05" stroke="#2e0a02" stroke-width="0.65"/>
<path d="M146.7,310.2L149.7,313.2L146.7,316.3L143.6,313.2Z" fill="#ff2a05" stroke="#2e0a02" stroke-width="0.65"/>
<path d="M136.0,319.7L139.1,322.8L136.0,325.8L133.0,322.8Z" fill="#ff2a05" stroke="#2e0a02" stroke-width="0.65"/>
<path d="M142.9,310.4L145.9,313.4L142.9,316.5L139.8,313.4Z" fill="#ff2a05" stroke="#2e0a02" stroke-width="0.65"/>
<path d="M163.5,296.6L166.6,299.6L163.5,302.7L160.5,299.6Z" fill="#ff2a05" stroke="#2e0a02" stroke-width="0.65"/>
<path d="M137.4,318.8L140.4,321.9L137.4,324.9L134.3,321.9Z" fill="#ff2a05" stroke="#2e0a02" stroke-width="0.65"/>
<path d="M187.6,274.2L190.6,277.2L187.6,280.3L184.5,277.2Z" fill="#ff2a05" stroke="#2e0a02" stroke-width="0.65"/>
<path d="M142.1,313.0L145.2,316.0L142.1,319.1L139.1,316.0Z" fill="#ff2a05" stroke="#2e0a02" stroke-width="0.65"/>
<path d="M106.6,337.1L109.7,340.2L106.6,343.2L103.6,340.2Z" fill="#ff2a05" stroke="#2e0a02" stroke-width="0.65"/>
<path d="M182.9,279.4L186.0,282.4L182.9,285.5L179.9,282.4Z" fill="#ff2a05" stroke="#2e0a02" stroke-width="0.65"/>
<path d="M142.5,312.8L145.6,315.8L142.5,318.9L139.5,315.8Z" fill="#ff2a05" stroke="#2e0a02" stroke-width="0.65"/>
<path d="M155.9,301.6L159.0,304.7L155.9,307.7L152.9,304.7Z" fill="#ff2a05" stroke="#2e0a02" stroke-width="0.65"/>
<path d="M185.1,277.3L188.2,280.4L185.1,283.4L182.1,280.4Z" fill="#ff2a05" stroke="#2e0a02" stroke-width="0.65"/>
<path d="M99.6,349.1L102.7,352.1L99.6,355.2L96.6,352.1Z" fill="#ff2a05" stroke="#2e0a02" stroke-width="0.65"/>
<path d="M114.7,333.9L117.7,337.0L114.7,340.0L111.6,337.0Z" fill="#ff2a05" stroke="#2e0a02" stroke-width="0.65"/>
<path d="M129.4,327.1L132.5,330.2L129.4,333.2L126.4,330.2Z" fill="#ff2a05" stroke="#2e0a02" stroke-width="0.65"/>
<path d="M130.9,322.4L134.0,325.4L130.9,328.5L127.9,325.4Z" fill="#ff2a05" stroke="#2e0a02" stroke-width="0.65"/>
<path d="M166.1,291.8L169.1,294.9L166.1,297.9L163.0,294.9Z" fill="#ff2a05" stroke="#2e0a02" stroke-width="0.65"/>
<path d="M107.1,338.6L110.1,341.6L107.1,344.7L104.0,341.6Z" fill="#ff2a05" stroke="#2e0a02" stroke-width="0.65"/>
<path d="M114.8,333.3L117.8,336.3L114.8,339.4L111.7,336.3Z" fill="#ff2a05" stroke="#2e0a02" stroke-width="0.65"/>
<path d="M146.6,307.3L149.7,310.4L146.6,313.4L143.6,310.4Z" fill="#ff2a05" stroke="#2e0a02" stroke-width="0.65"/>
<path d="M137.2,318.7L140.3,321.7L137.2,324.8L134.2,321.7Z" fill="#ff2a05" stroke="#2e0a02" stroke-width="0.65"/>
<path d="M147.7,308.9L150.8,311.9L147.7,315.0L144.7,311.9Z" fill="#ff2a05" stroke="#2e0a02" stroke-width="0.65"/>
<path d="M157.2,300.5L160.3,303.6L157.2,306.6L154.2,303.6Z" fill="#ff2a05" stroke="#2e0a02" stroke-width="0.65"/>
<path d="M205.2,260.4L208.2,263.5L205.2,266.6L202.1,263.5Z" fill="#ff2a05" stroke="#2e0a02" stroke-width="0.65"/>
<path d="M200.5,263.8L203.6,266.9L200.5,269.9L197.4,266.9Z" fill="#ff2a05" stroke="#2e0a02" stroke-width="0.65"/>
<path d="M199.1,265.3L202.2,268.4L199.1,271.4L196.0,268.4Z" fill="#ff2a05" stroke="#2e0a02" stroke-width="0.65"/>
<path d="M193.7,268.9L196.8,272.0L193.7,275.1L190.6,272.0Z" fill="#ff2a05" stroke="#2e0a02" stroke-width="0.65"/>
<path d="M191.1,270.8L194.2,273.8L191.1,276.9L188.0,273.8Z" fill="#ff2a05" stroke="#2e0a02" stroke-width="0.65"/>
<path d="M188.6,272.6L191.7,275.6L188.6,278.7L185.5,275.6Z" fill="#ff2a05" stroke="#2e0a02" stroke-width="0.65"/>
<path d="M186.4,274.3L189.5,277.4L186.4,280.4L183.3,277.4Z" fill="#ff2a05" stroke="#2e0a02" stroke-width="0.65"/>
<path d="M97.5,344.6L100.5,347.6L97.5,350.7L94.5,347.6Z" fill="#ff2a05" stroke="#2e0a02" stroke-width="0.65"/>
<path d="M96.0,349.8L99.0,352.8L96.0,355.9L93.0,352.8Z" fill="#ff2a05" stroke="#2e0a02" stroke-width="0.65"/>
<path d="M100.8,352.8L103.8,355.8L100.8,358.9L97.8,355.8Z" fill="#ff2a05" stroke="#2e0a02" stroke-width="0.65"/>
<path d="M103.3,344.9L106.3,348.0L103.3,351.1L100.2,348.0Z" fill="#ff2a05" stroke="#2e0a02" stroke-width="0.65"/>
<path d="M107.8,346.1L110.8,349.2L107.8,352.2L104.8,349.2Z" fill="#ff2a05" stroke="#2e0a02" stroke-width="0.65"/>
<path d="M107.5,341.2L110.5,344.3L107.5,347.4L104.5,344.3Z" fill="#ff2a05" stroke="#2e0a02" stroke-width="0.65"/>
<text x="272.5" y="237.7" font-size="19.6" font-weight="bold">d</text>
<line x1="350.2" y1="246" x2="350.2" y2="375.20000000000005" stroke="#8c8c8c" stroke-width="1.3"/>
<line x1="349.59999999999997" y1="374.6" x2="518.30" y2="374.6" stroke="#8c8c8c" stroke-width="1.3"/>
<line x1="346.2" y1="374.60" x2="350.2" y2="374.60" stroke="#8c8c8c" stroke-width="1.1"/>
<line x1="350.20" y1="374.6" x2="350.20" y2="378.8" stroke="#8c8c8c" stroke-width="1.1"/>
<text x="338.6" y="380.40" font-size="13.5" text-anchor="end">0</text>
<text x="350.20" y="395.9" font-size="13.5" text-anchor="middle">0</text>
<line x1="346.2" y1="349.76" x2="350.2" y2="349.76" stroke="#8c8c8c" stroke-width="1.1"/>
<line x1="383.82" y1="374.6" x2="383.82" y2="378.8" stroke="#8c8c8c" stroke-width="1.1"/>
<text x="338.6" y="355.56" font-size="13.5" text-anchor="end">25</text>
<text x="383.82" y="395.9" font-size="13.5" text-anchor="middle">25</text>
<line x1="346.2" y1="324.92" x2="350.2" y2="324.92" stroke="#8c8c8c" stroke-width="1.1"/>
<line x1="417.44" y1="374.6" x2="417.44" y2="378.8" stroke="#8c8c8c" stroke-width="1.1"/>
<text x="338.6" y="330.72" font-size="13.5" text-anchor="end">50</text>
<text x="417.44" y="395.9" font-size="13.5" text-anchor="middle">50</text>
<line x1="346.2" y1="300.08" x2="350.2" y2="300.08" stroke="#8c8c8c" stroke-width="1.1"/>
<line x1="451.06" y1="374.6" x2="451.06" y2="378.8" stroke="#8c8c8c" stroke-width="1.1"/>
<text x="338.6" y="305.88" font-size="13.5" text-anchor="end">75</text>
<text x="451.06" y="395.9" font-size="13.5" text-anchor="middle">75</text>
<line x1="346.2" y1="275.24" x2="350.2" y2="275.24" stroke="#8c8c8c" stroke-width="1.1"/>
<line x1="484.68" y1="374.6" x2="484.68" y2="378.8" stroke="#8c8c8c" stroke-width="1.1"/>
<text x="338.6" y="281.04" font-size="13.5" text-anchor="end">100</text>
<text x="484.68" y="395.9" font-size="13.5" text-anchor="middle">100</text>
<line x1="346.2" y1="250.40" x2="350.2" y2="250.40" stroke="#8c8c8c" stroke-width="1.1"/>
<line x1="518.30" y1="374.6" x2="518.30" y2="378.8" stroke="#8c8c8c" stroke-width="1.1"/>
<text x="338.6" y="256.20" font-size="13.5" text-anchor="end">125</text>
<text x="518.30" y="395.9" font-size="13.5" text-anchor="middle">125</text>
<text transform="translate(312.5,316.5) rotate(-90)" font-size="10.3" text-anchor="middle">Reads from individual (3) libraries</text>
<text x="440.8" y="411.4" font-size="10.3" text-anchor="middle">Reads from pooled library</text>
<text x="454.1" y="356.6" font-size="10.1">r<tspan font-size="7" dy="-3.2">2</tspan><tspan dy="3.2"> = 0.9185</tspan></text>
<text x="454.3" y="368.9" font-size="10.1"><tspan font-style="italic">p</tspan> &lt; 2.2 x 10<tspan font-size="7.4" dy="-3.6" letter-spacing="0.25">-16</tspan></text>
<line x1="367.3" y1="329.8" x2="367.3" y2="335.4" stroke="#6e6e6e" stroke-width="0.8"/>
<line x1="365.5" y1="329.8" x2="369.1" y2="329.8" stroke="#505050" stroke-width="0.9"/>
<line x1="372.7" y1="337.2" x2="372.7" y2="346.9" stroke="#6e6e6e" stroke-width="0.8"/>
<line x1="370.9" y1="337.2" x2="374.5" y2="337.2" stroke="#505050" stroke-width="0.9"/>
<line x1="369.7" y1="342.0" x2="369.7" y2="351.1" stroke="#6e6e6e" stroke-width="0.8"/>
<line x1="367.9" y1="342.0" x2="371.5" y2="342.0" stroke="#505050" stroke-width="0.9"/>
<line x1="364.3" y1="345.7" x2="364.3" y2="358.9" stroke="#6e6e6e" stroke-width="0.8"/>
<line x1="362.5" y1="345.7" x2="366.1" y2="345.7" stroke="#505050" stroke-width="0.9"/>
<line x1="360.7" y1="351.1" x2="360.7" y2="360.1" stroke="#6e6e6e" stroke-width="0.8"/>
<line x1="358.9" y1="351.1" x2="362.5" y2="351.1" stroke="#505050" stroke-width="0.9"/>
<line x1="357.0" y1="350.5" x2="357.0" y2="357.7" stroke="#6e6e6e" stroke-width="0.8"/>
<line x1="355.2" y1="350.5" x2="358.8" y2="350.5" stroke="#505050" stroke-width="0.9"/>
<line x1="353.4" y1="357.7" x2="353.4" y2="364.9" stroke="#6e6e6e" stroke-width="0.8"/>
<line x1="351.6" y1="357.7" x2="355.2" y2="357.7" stroke="#505050" stroke-width="0.9"/>
<line x1="377.5" y1="339.0" x2="377.5" y2="342.0" stroke="#6e6e6e" stroke-width="0.8"/>
<line x1="375.7" y1="339.0" x2="379.3" y2="339.0" stroke="#505050" stroke-width="0.9"/>
<line x1="379.0" y1="338.4" x2="379.0" y2="344.0" stroke="#6e6e6e" stroke-width="0.8"/>
<line x1="377.2" y1="338.4" x2="380.8" y2="338.4" stroke="#505050" stroke-width="0.9"/>
<line x1="423.4" y1="298.7" x2="423.4" y2="304.2" stroke="#6e6e6e" stroke-width="0.8"/>
<line x1="421.6" y1="298.7" x2="425.2" y2="298.7" stroke="#505050" stroke-width="0.9"/>
<line x1="416.1" y1="292.4" x2="416.1" y2="307.8" stroke="#6e6e6e" stroke-width="0.8"/>
<line x1="414.3" y1="292.4" x2="417.9" y2="292.4" stroke="#505050" stroke-width="0.9"/>
<line x1="412.5" y1="283.7" x2="412.5" y2="312.0" stroke="#6e6e6e" stroke-width="0.8"/>
<line x1="410.7" y1="283.7" x2="414.3" y2="283.7" stroke="#505050" stroke-width="0.9"/>
<line x1="404.7" y1="305.5" x2="404.7" y2="315.7" stroke="#6e6e6e" stroke-width="0.8"/>
<line x1="402.9" y1="305.5" x2="406.5" y2="305.5" stroke="#505050" stroke-width="0.9"/>
<line x1="408.3" y1="284.0" x2="408.3" y2="319.3" stroke="#6e6e6e" stroke-width="0.8"/>
<line x1="406.5" y1="284.0" x2="410.1" y2="284.0" stroke="#505050" stroke-width="0.9"/>
<line x1="398.7" y1="280.8" x2="398.7" y2="318.7" stroke="#6e6e6e" stroke-width="0.8"/>
<line x1="396.9" y1="280.8" x2="400.5" y2="280.8" stroke="#505050" stroke-width="0.9"/>
<line x1="399.9" y1="310.8" x2="399.9" y2="325.3" stroke="#6e6e6e" stroke-width="0.8"/>
<line x1="398.1" y1="310.8" x2="401.7" y2="310.8" stroke="#505050" stroke-width="0.9"/>
<line x1="409.5" y1="289.3" x2="409.5" y2="325.3" stroke="#6e6e6e" stroke-width="0.8"/>
<line x1="407.7" y1="289.3" x2="411.3" y2="289.3" stroke="#505050" stroke-width="0.9"/>
<line x1="396.3" y1="322.9" x2="396.3" y2="327.7" stroke="#6e6e6e" stroke-width="0.8"/>
<line x1="394.5" y1="322.9" x2="398.1" y2="322.9" stroke="#505050" stroke-width="0.9"/>
<line x1="391.4" y1="330.1" x2="391.4" y2="336.7" stroke="#6e6e6e" stroke-width="0.8"/>
<line x1="389.6" y1="330.1" x2="393.2" y2="330.1" stroke="#505050" stroke-width="0.9"/>
<line x1="386.0" y1="313.3" x2="386.0" y2="327.7" stroke="#6e6e6e" stroke-width="0.8"/>
<line x1="384.2" y1="313.3" x2="387.8" y2="313.3" stroke="#505050" stroke-width="0.9"/>
<line x1="422.2" y1="309.6" x2="422.2" y2="319.3" stroke="#6e6e6e" stroke-width="0.8"/>
<line x1="420.4" y1="309.6" x2="424.0" y2="309.6" stroke="#505050" stroke-width="0.9"/>
<line x1="425.8" y1="309.6" x2="425.8" y2="322.3" stroke="#6e6e6e" stroke-width="0.8"/>
<line x1="424.0" y1="309.6" x2="427.6" y2="309.6" stroke="#505050" stroke-width="0.9"/>
<line x1="419.8" y1="310.0" x2="419.8" y2="323.5" stroke="#6e6e6e" stroke-width="0.8"/>
<line x1="418.0" y1="310.0" x2="421.6" y2="310.0" stroke="#505050" stroke-width="0.9"/>
<line x1="462.0" y1="273.8" x2="462.0" y2="284.8" stroke="#6e6e6e" stroke-width="0.8"/>
<line x1="460.2" y1="273.8" x2="463.8" y2="273.8" stroke="#505050" stroke-width="0.9"/>
<line x1="430.7" y1="249.8" x2="430.7" y2="290.2" stroke="#6e6e6e" stroke-width="0.8"/>
<line x1="428.9" y1="249.8" x2="432.5" y2="249.8" stroke="#505050" stroke-width="0.9"/>
<line x1="442.1" y1="282.4" x2="442.1" y2="292.0" stroke="#6e6e6e" stroke-width="0.8"/>
<line x1="440.3" y1="282.4" x2="443.9" y2="282.4" stroke="#505050" stroke-width="0.9"/>
<line x1="431.3" y1="259.2" x2="431.3" y2="297.5" stroke="#6e6e6e" stroke-width="0.8"/>
<line x1="429.5" y1="259.2" x2="433.1" y2="259.2" stroke="#505050" stroke-width="0.9"/>
<line x1="434.9" y1="285.4" x2="434.9" y2="303.5" stroke="#6e6e6e" stroke-width="0.8"/>
<line x1="433.1" y1="285.4" x2="436.7" y2="285.4" stroke="#505050" stroke-width="0.9"/>
<line x1="442.1" y1="292.0" x2="442.1" y2="314.7" stroke="#6e6e6e" stroke-width="0.8"/>
<line x1="440.3" y1="292.0" x2="443.9" y2="292.0" stroke="#505050" stroke-width="0.9"/>
<line x1="482.1" y1="283.4" x2="482.1" y2="294.1" stroke="#6e6e6e" stroke-width="0.8"/>
<line x1="480.3" y1="283.4" x2="483.9" y2="283.4" stroke="#505050" stroke-width="0.9"/>
<line x1="444.2" y1="331.6" x2="444.2" y2="341.2" stroke="#6e6e6e" stroke-width="0.8"/>
<line x1="442.4" y1="331.6" x2="446.0" y2="331.6" stroke="#505050" stroke-width="0.9"/>
<line x1="408.1" y1="299.4" x2="408.1" y2="322.0" stroke="#6e6e6e" stroke-width="0.8"/>
<line x1="406.3" y1="299.4" x2="409.9" y2="299.4" stroke="#505050" stroke-width="0.9"/>
<line x1="380.0" y1="320.4" x2="380.0" y2="340.0" stroke="#6e6e6e" stroke-width="0.8"/>
<line x1="378.2" y1="320.4" x2="381.8" y2="320.4" stroke="#505050" stroke-width="0.9"/>
<line x1="389.5" y1="312.3" x2="389.5" y2="331.0" stroke="#6e6e6e" stroke-width="0.8"/>
<line x1="387.7" y1="312.3" x2="391.3" y2="312.3" stroke="#505050" stroke-width="0.9"/>
<path d="M412.5,308.6L415.9,312.0L412.5,315.4L409.1,312.0Z" fill="#5a98d6" stroke="#101820" stroke-width="0.85"/>
<path d="M353.3,371.0L356.6,374.3L353.3,377.7L349.9,374.3Z" fill="#5a98d6" stroke="#101820" stroke-width="0.85"/>
<path d="M373.0,352.8L376.4,356.2L373.0,359.5L369.7,356.2Z" fill="#5a98d6" stroke="#101820" stroke-width="0.85"/>
<path d="M353.8,367.1L357.2,370.5L353.8,373.8L350.5,370.5Z" fill="#5a98d6" stroke="#101820" stroke-width="0.85"/>
<path d="M383.6,337.4L387.0,340.8L383.6,344.2L380.2,340.8Z" fill="#5a98d6" stroke="#101820" stroke-width="0.85"/>
<path d="M423.4,300.8L426.8,304.2L423.4,307.6L420.0,304.2Z" fill="#5a98d6" stroke="#101820" stroke-width="0.85"/>
<path d="M367.3,332.0L370.7,335.4L367.3,338.8L363.9,335.4Z" fill="#5a98d6" stroke="#101820" stroke-width="0.85"/>
<path d="M350.5,369.6L353.9,373.0L350.5,376.3L347.2,373.0Z" fill="#5a98d6" stroke="#101820" stroke-width="0.85"/>
<path d="M355.9,367.5L359.3,370.9L355.9,374.2L352.6,370.9Z" fill="#5a98d6" stroke="#101820" stroke-width="0.85"/>
<path d="M353.9,369.9L357.2,373.3L353.9,376.6L350.5,373.3Z" fill="#5a98d6" stroke="#101820" stroke-width="0.85"/>
<path d="M355.9,365.7L359.2,369.1L355.9,372.4L352.5,369.1Z" fill="#5a98d6" stroke="#101820" stroke-width="0.85"/>
<path d="M350.5,369.5L353.8,372.9L350.5,376.2L347.1,372.9Z" fill="#5a98d6" stroke="#101820" stroke-width="0.85"/>
<path d="M383.1,346.6L386.4,350.0L383.1,353.3L379.7,350.0Z" fill="#5a98d6" stroke="#101820" stroke-width="0.85"/>
<path d="M353.1,367.4L356.5,370.7L353.1,374.1L349.8,370.7Z" fill="#5a98d6" stroke="#101820" stroke-width="0.85"/>
<path d="M352.2,366.4L355.6,369.8L352.2,373.2L348.8,369.8Z" fill="#5a98d6" stroke="#101820" stroke-width="0.85"/>
<path d="M352.6,367.4L356.0,370.7L352.6,374.1L349.3,370.7Z" fill="#5a98d6" stroke="#101820" stroke-width="0.85"/>
<path d="M359.3,367.0L362.7,370.3L359.3,373.7L356.0,370.3Z" fill="#5a98d6" stroke="#101820" stroke-width="0.85"/>
<path d="M351.8,369.6L355.1,372.9L351.8,376.3L348.4,372.9Z" fill="#5a98d6" stroke="#101820" stroke-width="0.85"/>
<path d="M353.5,368.7L356.8,372.1L353.5,375.4L350.1,372.1Z" fill="#5a98d6" stroke="#101820" stroke-width="0.85"/>
<path d="M356.5,367.5L359.9,370.8L356.5,374.2L353.2,370.8Z" fill="#5a98d6" stroke="#101820" stroke-width="0.85"/>
<path d="M351.2,370.3L354.5,373.7L351.2,377.0L347.8,373.7Z" fill="#5a98d6" stroke="#101820" stroke-width="0.85"/>
<path d="M352.4,370.0L355.8,373.4L352.4,376.7L349.1,373.4Z" fill="#5a98d6" stroke="#101820" stroke-width="0.85"/>
<path d="M377.5,351.9L380.9,355.3L377.5,358.7L374.1,355.3Z" fill="#5a98d6" stroke="#101820" stroke-width="0.85"/>
<path d="M381.1,353.1L384.5,356.5L381.1,359.9L377.8,356.5Z" fill="#5a98d6" stroke="#101820" stroke-width="0.85"/>
<path d="M356.6,364.8L359.9,368.2L356.6,371.5L353.2,368.2Z" fill="#5a98d6" stroke="#101820" stroke-width="0.85"/>
<path d="M351.5,370.8L354.8,374.1L351.5,377.5L348.1,374.1Z" fill="#5a98d6" stroke="#101820" stroke-width="0.85"/>
<path d="M396.3,324.3L399.7,327.7L396.3,331.1L392.9,327.7Z" fill="#5a98d6" stroke="#101820" stroke-width="0.85"/>
<path d="M352.3,370.5L355.6,373.8L352.3,377.2L348.9,373.8Z" fill="#5a98d6" stroke="#101820" stroke-width="0.85"/>
<path d="M355.6,366.5L358.9,369.8L355.6,373.2L352.2,369.8Z" fill="#5a98d6" stroke="#101820" stroke-width="0.85"/>
<path d="M371.5,354.8L374.8,358.2L371.5,361.5L368.1,358.2Z" fill="#5a98d6" stroke="#101820" stroke-width="0.85"/>
<path d="M357.0,366.4L360.4,369.8L357.0,373.2L353.6,369.8Z" fill="#5a98d6" stroke="#101820" stroke-width="0.85"/>
<path d="M353.9,370.4L357.2,373.7L353.9,377.1L350.5,373.7Z" fill="#5a98d6" stroke="#101820" stroke-width="0.85"/>
<path d="M391.7,340.6L395.1,344.0L391.7,347.3L388.4,344.0Z" fill="#5a98d6" stroke="#101820" stroke-width="0.85"/>
<path d="M357.1,367.3L360.4,370.7L357.1,374.0L353.7,370.7Z" fill="#5a98d6" stroke="#101820" stroke-width="0.85"/>
<path d="M351.3,370.3L354.6,373.7L351.3,377.0L347.9,373.7Z" fill="#5a98d6" stroke="#101820" stroke-width="0.85"/>
<path d="M353.7,368.2L357.1,371.6L353.7,374.9L350.4,371.6Z" fill="#5a98d6" stroke="#101820" stroke-width="0.85"/>
<path d="M443.2,339.4L446.6,342.8L443.2,346.2L439.8,342.8Z" fill="#5a98d6" stroke="#101820" stroke-width="0.85"/>
<path d="M392.1,337.4L395.4,340.8L392.1,344.1L388.7,340.8Z" fill="#5a98d6" stroke="#101820" stroke-width="0.85"/>
<path d="M462.0,281.4L465.4,284.8L462.0,288.2L458.6,284.8Z" fill="#5a98d6" stroke="#101820" stroke-width="0.85"/>
<path d="M357.5,368.1L360.9,371.4L357.5,374.8L354.2,371.4Z" fill="#5a98d6" stroke="#101820" stroke-width="0.85"/>
<path d="M353.2,369.7L356.6,373.1L353.2,376.4L349.9,373.1Z" fill="#5a98d6" stroke="#101820" stroke-width="0.85"/>
<path d="M360.7,361.8L364.1,365.2L360.7,368.5L357.4,365.2Z" fill="#5a98d6" stroke="#101820" stroke-width="0.85"/>
<path d="M352.4,369.7L355.8,373.0L352.4,376.4L349.1,373.0Z" fill="#5a98d6" stroke="#101820" stroke-width="0.85"/>
<path d="M351.8,369.2L355.1,372.6L351.8,375.9L348.4,372.6Z" fill="#5a98d6" stroke="#101820" stroke-width="0.85"/>
<path d="M366.5,363.8L369.8,367.1L366.5,370.5L363.1,367.1Z" fill="#5a98d6" stroke="#101820" stroke-width="0.85"/>
<path d="M399.9,321.9L403.2,325.3L399.9,328.7L396.5,325.3Z" fill="#5a98d6" stroke="#101820" stroke-width="0.85"/>
<path d="M401.9,348.8L405.2,352.1L401.9,355.5L398.5,352.1Z" fill="#5a98d6" stroke="#101820" stroke-width="0.85"/>
<path d="M386.2,331.8L389.6,335.2L386.2,338.6L382.8,335.2Z" fill="#5a98d6" stroke="#101820" stroke-width="0.85"/>
<path d="M369.0,356.8L372.3,360.1L369.0,363.5L365.6,360.1Z" fill="#5a98d6" stroke="#101820" stroke-width="0.85"/>
<path d="M363.8,361.5L367.2,364.9L363.8,368.2L360.5,364.9Z" fill="#5a98d6" stroke="#101820" stroke-width="0.85"/>
<path d="M364.1,363.3L367.5,366.7L364.1,370.0L360.8,366.7Z" fill="#5a98d6" stroke="#101820" stroke-width="0.85"/>
<path d="M422.2,315.9L425.6,319.3L422.2,322.7L418.8,319.3Z" fill="#5a98d6" stroke="#101820" stroke-width="0.85"/>
<path d="M430.7,286.8L434.1,290.2L430.7,293.6L427.3,290.2Z" fill="#5a98d6" stroke="#101820" stroke-width="0.85"/>
<path d="M354.5,369.2L357.9,372.6L354.5,375.9L351.2,372.6Z" fill="#5a98d6" stroke="#101820" stroke-width="0.85"/>
<path d="M353.5,368.4L356.8,371.8L353.5,375.1L350.1,371.8Z" fill="#5a98d6" stroke="#101820" stroke-width="0.85"/>
<path d="M362.1,363.6L365.4,367.0L362.1,370.3L358.7,367.0Z" fill="#5a98d6" stroke="#101820" stroke-width="0.85"/>
<path d="M374.7,349.4L378.0,352.8L374.7,356.1L371.3,352.8Z" fill="#5a98d6" stroke="#101820" stroke-width="0.85"/>
<path d="M390.8,340.0L394.2,343.4L390.8,346.8L387.4,343.4Z" fill="#5a98d6" stroke="#101820" stroke-width="0.85"/>
<path d="M431.3,308.5L434.7,311.9L431.3,315.2L427.9,311.9Z" fill="#5a98d6" stroke="#101820" stroke-width="0.85"/>
<path d="M377.0,353.6L380.3,357.0L377.0,360.3L373.6,357.0Z" fill="#5a98d6" stroke="#101820" stroke-width="0.85"/>
<path d="M405.5,327.6L408.9,331.0L405.5,334.4L402.1,331.0Z" fill="#5a98d6" stroke="#101820" stroke-width="0.85"/>
<path d="M353.1,368.7L356.4,372.0L353.1,375.4L349.7,372.0Z" fill="#5a98d6" stroke="#101820" stroke-width="0.85"/>
<path d="M352.6,368.0L356.0,371.3L352.6,374.7L349.3,371.3Z" fill="#5a98d6" stroke="#101820" stroke-width="0.85"/>
<path d="M398.7,315.3L402.1,318.7L398.7,322.1L395.3,318.7Z" fill="#5a98d6" stroke="#101820" stroke-width="0.85"/>
<path d="M405.9,336.4L409.2,339.8L405.9,343.2L402.5,339.8Z" fill="#5a98d6" stroke="#101820" stroke-width="0.85"/>
<path d="M386.0,341.8L389.4,345.2L386.0,348.6L382.6,345.2Z" fill="#5a98d6" stroke="#101820" stroke-width="0.85"/>
<path d="M368.5,354.3L371.9,357.7L368.5,361.0L365.2,357.7Z" fill="#5a98d6" stroke="#101820" stroke-width="0.85"/>
<path d="M353.2,369.6L356.5,373.0L353.2,376.3L349.8,373.0Z" fill="#5a98d6" stroke="#101820" stroke-width="0.85"/>
<path d="M361.9,366.4L365.2,369.8L361.9,373.2L358.5,369.8Z" fill="#5a98d6" stroke="#101820" stroke-width="0.85"/>
<path d="M378.8,349.0L382.1,352.4L378.8,355.7L375.4,352.4Z" fill="#5a98d6" stroke="#101820" stroke-width="0.85"/>
<path d="M352.2,370.1L355.5,373.5L352.2,376.8L348.8,373.5Z" fill="#5a98d6" stroke="#101820" stroke-width="0.85"/>
<path d="M351.2,370.2L354.6,373.6L351.2,376.9L347.9,373.6Z" fill="#5a98d6" stroke="#101820" stroke-width="0.85"/>
<path d="M351.0,369.6L354.4,373.0L351.0,376.3L347.7,373.0Z" fill="#5a98d6" stroke="#101820" stroke-width="0.85"/>
<path d="M365.5,367.6L368.9,371.0L365.5,374.4L362.1,371.0Z" fill="#5a98d6" stroke="#101820" stroke-width="0.85"/>
<path d="M350.7,370.3L354.0,373.6L350.7,377.0L347.3,373.6Z" fill="#5a98d6" stroke="#101820" stroke-width="0.85"/>
<path d="M371.7,356.8L375.1,360.1L371.7,363.5L368.4,360.1Z" fill="#5a98d6" stroke="#101820" stroke-width="0.85"/>
<path d="M349.8,368.2L353.2,371.6L349.8,375.0L346.4,371.6Z" fill="#5a98d6" stroke="#101820" stroke-width="0.85"/>
<path d="M353.5,369.4L356.9,372.8L353.5,376.1L350.2,372.8Z" fill="#5a98d6" stroke="#101820" stroke-width="0.85"/>
<path d="M410.3,333.0L413.7,336.4L410.3,339.8L406.9,336.4Z" fill="#5a98d6" stroke="#101820" stroke-width="0.85"/>
<path d="M350.4,371.2L353.8,374.6L350.4,378.0L347.1,374.6Z" fill="#5a98d6" stroke="#101820" stroke-width="0.85"/>
<path d="M375.1,355.5L378.5,358.9L375.1,362.2L371.8,358.9Z" fill="#5a98d6" stroke="#101820" stroke-width="0.85"/>
<path d="M361.4,361.5L364.8,364.8L361.4,368.2L358.1,364.8Z" fill="#5a98d6" stroke="#101820" stroke-width="0.85"/>
<path d="M390.8,333.8L394.2,337.2L390.8,340.6L387.4,337.2Z" fill="#5a98d6" stroke="#101820" stroke-width="0.85"/>
<path d="M350.3,371.2L353.6,374.6L350.3,378.0L346.9,374.6Z" fill="#5a98d6" stroke="#101820" stroke-width="0.85"/>
<path d="M351.8,370.3L355.1,373.7L351.8,377.0L348.4,373.7Z" fill="#5a98d6" stroke="#101820" stroke-width="0.85"/>
<path d="M354.2,368.3L357.5,371.7L354.2,375.0L350.8,371.7Z" fill="#5a98d6" stroke="#101820" stroke-width="0.85"/>
<path d="M353.1,368.6L356.5,371.9L353.1,375.3L349.8,371.9Z" fill="#5a98d6" stroke="#101820" stroke-width="0.85"/>
<path d="M410.1,331.5L413.5,334.9L410.1,338.2L406.8,334.9Z" fill="#5a98d6" stroke="#101820" stroke-width="0.85"/>
<path d="M353.3,369.5L356.6,372.9L353.3,376.2L349.9,372.9Z" fill="#5a98d6" stroke="#101820" stroke-width="0.85"/>
<path d="M352.9,368.4L356.2,371.7L352.9,375.1L349.5,371.7Z" fill="#5a98d6" stroke="#101820" stroke-width="0.85"/>
<path d="M359.5,365.2L362.9,368.6L359.5,372.0L356.1,368.6Z" fill="#5a98d6" stroke="#101820" stroke-width="0.85"/>
<path d="M394.6,355.9L398.0,359.3L394.6,362.7L391.2,359.3Z" fill="#5a98d6" stroke="#101820" stroke-width="0.85"/>
<path d="M392.9,336.8L396.3,340.1L392.9,343.5L389.6,340.1Z" fill="#5a98d6" stroke="#101820" stroke-width="0.85"/>
<path d="M373.9,350.1L377.2,353.5L373.9,356.9L370.5,353.5Z" fill="#5a98d6" stroke="#101820" stroke-width="0.85"/>
<path d="M398.1,332.8L401.5,336.1L398.1,339.5L394.8,336.1Z" fill="#5a98d6" stroke="#101820" stroke-width="0.85"/>
<path d="M352.3,371.2L355.6,374.5L352.3,377.9L348.9,374.5Z" fill="#5a98d6" stroke="#101820" stroke-width="0.85"/>
<path d="M351.7,368.2L355.0,371.5L351.7,374.9L348.3,371.5Z" fill="#5a98d6" stroke="#101820" stroke-width="0.85"/>
<path d="M350.5,371.2L353.8,374.6L350.5,378.0L347.1,374.6Z" fill="#5a98d6" stroke="#101820" stroke-width="0.85"/>
<path d="M423.4,325.4L426.8,328.8L423.4,332.2L420.0,328.8Z" fill="#5a98d6" stroke="#101820" stroke-width="0.85"/>
<path d="M394.0,348.1L397.4,351.5L394.0,354.9L390.6,351.5Z" fill="#5a98d6" stroke="#101820" stroke-width="0.85"/>
<path d="M350.5,369.8L353.8,373.2L350.5,376.5L347.1,373.2Z" fill="#5a98d6" stroke="#101820" stroke-width="0.85"/>
<path d="M354.0,368.2L357.3,371.5L354.0,374.9L350.6,371.5Z" fill="#5a98d6" stroke="#101820" stroke-width="0.85"/>
<path d="M364.3,355.5L367.7,358.9L364.3,362.2L360.9,358.9Z" fill="#5a98d6" stroke="#101820" stroke-width="0.85"/>
<path d="M353.8,366.8L357.1,370.1L353.8,373.5L350.4,370.1Z" fill="#5a98d6" stroke="#101820" stroke-width="0.85"/>
<path d="M350.8,370.0L354.1,373.3L350.8,376.7L347.4,373.3Z" fill="#5a98d6" stroke="#101820" stroke-width="0.85"/>
<path d="M351.6,368.5L354.9,371.8L351.6,375.2L348.2,371.8Z" fill="#5a98d6" stroke="#101820" stroke-width="0.85"/>
<path d="M352.4,368.8L355.7,372.2L352.4,375.5L349.0,372.2Z" fill="#5a98d6" stroke="#101820" stroke-width="0.85"/>
<path d="M392.9,338.4L396.2,341.7L392.9,345.1L389.5,341.7Z" fill="#5a98d6" stroke="#101820" stroke-width="0.85"/>
<path d="M368.1,359.2L371.4,362.6L368.1,365.9L364.7,362.6Z" fill="#5a98d6" stroke="#101820" stroke-width="0.85"/>
<path d="M380.0,344.6L383.4,348.0L380.0,351.4L376.6,348.0Z" fill="#5a98d6" stroke="#101820" stroke-width="0.85"/>
<path d="M352.5,367.1L355.8,370.4L352.5,373.8L349.1,370.4Z" fill="#5a98d6" stroke="#101820" stroke-width="0.85"/>
<path d="M351.1,371.2L354.4,374.6L351.1,378.0L347.7,374.6Z" fill="#5a98d6" stroke="#101820" stroke-width="0.85"/>
<path d="M404.7,312.3L408.1,315.7L404.7,319.1L401.3,315.7Z" fill="#5a98d6" stroke="#101820" stroke-width="0.85"/>
<path d="M379.5,350.9L382.8,354.2L379.5,357.6L376.1,354.2Z" fill="#5a98d6" stroke="#101820" stroke-width="0.85"/>
<path d="M398.9,352.3L402.2,355.7L398.9,359.1L395.5,355.7Z" fill="#5a98d6" stroke="#101820" stroke-width="0.85"/>
<path d="M391.4,337.4L394.7,340.8L391.4,344.1L388.0,340.8Z" fill="#5a98d6" stroke="#101820" stroke-width="0.85"/>
<path d="M363.8,361.3L367.2,364.7L363.8,368.0L360.5,364.7Z" fill="#5a98d6" stroke="#101820" stroke-width="0.85"/>
<path d="M387.8,338.6L391.2,342.0L387.8,345.4L384.4,342.0Z" fill="#5a98d6" stroke="#101820" stroke-width="0.85"/>
<path d="M391.4,353.8L394.8,357.1L391.4,360.5L388.0,357.1Z" fill="#5a98d6" stroke="#101820" stroke-width="0.85"/>
<path d="M391.0,351.8L394.4,355.1L391.0,358.5L387.6,355.1Z" fill="#5a98d6" stroke="#101820" stroke-width="0.85"/>
<path d="M351.2,370.9L354.6,374.2L351.2,377.6L347.9,374.2Z" fill="#5a98d6" stroke="#101820" stroke-width="0.85"/>
<path d="M355.8,362.8L359.2,366.1L355.8,369.5L352.4,366.1Z" fill="#5a98d6" stroke="#101820" stroke-width="0.85"/>
<path d="M389.5,327.6L392.9,331.0L389.5,334.4L386.1,331.0Z" fill="#5a98d6" stroke="#101820" stroke-width="0.85"/>
<path d="M358.8,362.6L362.2,366.0L358.8,369.3L355.5,366.0Z" fill="#5a98d6" stroke="#101820" stroke-width="0.85"/>
<path d="M354.1,366.4L357.4,369.7L354.1,373.1L350.7,369.7Z" fill="#5a98d6" stroke="#101820" stroke-width="0.85"/>
<path d="M386.1,342.7L389.5,346.0L386.1,349.4L382.8,346.0Z" fill="#5a98d6" stroke="#101820" stroke-width="0.85"/>
<path d="M423.4,326.8L426.8,330.1L423.4,333.5L420.0,330.1Z" fill="#5a98d6" stroke="#101820" stroke-width="0.85"/>
<path d="M369.1,361.0L372.4,364.3L369.1,367.7L365.7,364.3Z" fill="#5a98d6" stroke="#101820" stroke-width="0.85"/>
<path d="M353.2,368.8L356.5,372.2L353.2,375.5L349.8,372.2Z" fill="#5a98d6" stroke="#101820" stroke-width="0.85"/>
<path d="M405.3,327.3L408.7,330.7L405.3,334.1L401.9,330.7Z" fill="#5a98d6" stroke="#101820" stroke-width="0.85"/>
<path d="M442.1,311.3L445.5,314.7L442.1,318.1L438.8,314.7Z" fill="#5a98d6" stroke="#101820" stroke-width="0.85"/>
<path d="M430.0,308.6L433.4,312.0L430.0,315.4L426.6,312.0Z" fill="#5a98d6" stroke="#101820" stroke-width="0.85"/>
<path d="M393.8,349.5L397.2,352.9L393.8,356.2L390.4,352.9Z" fill="#5a98d6" stroke="#101820" stroke-width="0.85"/>
<path d="M351.6,369.5L355.0,372.9L351.6,376.2L348.3,372.9Z" fill="#5a98d6" stroke="#101820" stroke-width="0.85"/>
<path d="M353.4,368.8L356.8,372.2L353.4,375.6L350.0,372.2Z" fill="#5a98d6" stroke="#101820" stroke-width="0.85"/>
<path d="M397.0,333.6L400.4,337.0L397.0,340.4L393.6,337.0Z" fill="#5a98d6" stroke="#101820" stroke-width="0.85"/>
<path d="M433.1,314.6L436.5,318.0L433.1,321.4L429.8,318.0Z" fill="#5a98d6" stroke="#101820" stroke-width="0.85"/>
<path d="M351.5,371.2L354.8,374.6L351.5,378.0L348.1,374.6Z" fill="#5a98d6" stroke="#101820" stroke-width="0.85"/>
<path d="M434.9,300.1L438.2,303.5L434.9,306.9L431.5,303.5Z" fill="#5a98d6" stroke="#101820" stroke-width="0.85"/>
<path d="M352.8,369.2L356.2,372.5L352.8,375.9L349.5,372.5Z" fill="#5a98d6" stroke="#101820" stroke-width="0.85"/>
<path d="M354.5,368.8L357.9,372.2L354.5,375.5L351.2,372.2Z" fill="#5a98d6" stroke="#101820" stroke-width="0.85"/>
<path d="M366.7,352.5L370.1,355.9L366.7,359.2L363.3,355.9Z" fill="#5a98d6" stroke="#101820" stroke-width="0.85"/>
<path d="M400.7,322.8L404.1,326.2L400.7,329.6L397.3,326.2Z" fill="#5a98d6" stroke="#101820" stroke-width="0.85"/>
<path d="M354.2,369.6L357.5,373.0L354.2,376.3L350.8,373.0Z" fill="#5a98d6" stroke="#101820" stroke-width="0.85"/>
<path d="M419.8,320.1L423.2,323.5L419.8,326.9L416.4,323.5Z" fill="#5a98d6" stroke="#101820" stroke-width="0.85"/>
<path d="M393.2,337.4L396.6,340.8L393.2,344.2L389.8,340.8Z" fill="#5a98d6" stroke="#101820" stroke-width="0.85"/>
<path d="M351.1,371.1L354.4,374.4L351.1,377.8L347.7,374.4Z" fill="#5a98d6" stroke="#101820" stroke-width="0.85"/>
<path d="M352.4,370.0L355.7,373.4L352.4,376.7L349.0,373.4Z" fill="#5a98d6" stroke="#101820" stroke-width="0.85"/>
<path d="M355.0,366.4L358.3,369.7L355.0,373.1L351.6,369.7Z" fill="#5a98d6" stroke="#101820" stroke-width="0.85"/>
<path d="M372.8,349.1L376.2,352.5L372.8,355.8L369.5,352.5Z" fill="#5a98d6" stroke="#101820" stroke-width="0.85"/>
<path d="M391.4,333.3L394.8,336.7L391.4,340.1L388.0,336.7Z" fill="#5a98d6" stroke="#101820" stroke-width="0.85"/>
<path d="M377.5,338.6L380.9,342.0L377.5,345.4L374.1,342.0Z" fill="#5a98d6" stroke="#101820" stroke-width="0.85"/>
<path d="M350.6,371.2L353.9,374.6L350.6,378.0L347.2,374.6Z" fill="#5a98d6" stroke="#101820" stroke-width="0.85"/>
<path d="M408.1,318.6L411.5,322.0L408.1,325.4L404.8,322.0Z" fill="#5a98d6" stroke="#101820" stroke-width="0.85"/>
<path d="M380.5,357.3L383.9,360.7L380.5,364.1L377.1,360.7Z" fill="#5a98d6" stroke="#101820" stroke-width="0.85"/>
<path d="M362.5,360.0L365.9,363.4L362.5,366.7L359.2,363.4Z" fill="#5a98d6" stroke="#101820" stroke-width="0.85"/>
<path d="M366.1,363.2L369.4,366.6L366.1,369.9L362.7,366.6Z" fill="#5a98d6" stroke="#101820" stroke-width="0.85"/>
<path d="M410.9,337.3L414.2,340.7L410.9,344.1L407.5,340.7Z" fill="#5a98d6" stroke="#101820" stroke-width="0.85"/>
<path d="M364.5,364.8L367.9,368.1L364.5,371.5L361.2,368.1Z" fill="#5a98d6" stroke="#101820" stroke-width="0.85"/>
<path d="M372.7,343.5L376.1,346.9L372.7,350.2L369.3,346.9Z" fill="#5a98d6" stroke="#101820" stroke-width="0.85"/>
<path d="M355.4,366.3L358.7,369.6L355.4,373.0L352.0,369.6Z" fill="#5a98d6" stroke="#101820" stroke-width="0.85"/>
<path d="M365.5,360.0L368.8,363.4L365.5,366.7L362.1,363.4Z" fill="#5a98d6" stroke="#101820" stroke-width="0.85"/>
<path d="M354.1,368.8L357.4,372.1L354.1,375.5L350.7,372.1Z" fill="#5a98d6" stroke="#101820" stroke-width="0.85"/>
<path d="M442.1,288.6L445.5,292.0L442.1,295.4L438.8,292.0Z" fill="#5a98d6" stroke="#101820" stroke-width="0.85"/>
<path d="M353.4,368.5L356.7,371.8L353.4,375.2L350.0,371.8Z" fill="#5a98d6" stroke="#101820" stroke-width="0.85"/>
<path d="M354.9,367.0L358.3,370.3L354.9,373.7L351.6,370.3Z" fill="#5a98d6" stroke="#101820" stroke-width="0.85"/>
<path d="M444.2,337.8L447.6,341.2L444.2,344.6L440.8,341.2Z" fill="#5a98d6" stroke="#101820" stroke-width="0.85"/>
<path d="M360.7,362.6L364.1,365.9L360.7,369.3L357.4,365.9Z" fill="#5a98d6" stroke="#101820" stroke-width="0.85"/>
<path d="M389.6,350.8L393.0,354.1L389.6,357.5L386.2,354.1Z" fill="#5a98d6" stroke="#101820" stroke-width="0.85"/>
<path d="M357.0,359.1L360.4,362.5L357.0,365.9L353.6,362.5Z" fill="#5a98d6" stroke="#101820" stroke-width="0.85"/>
<path d="M351.7,370.9L355.0,374.3L351.7,377.6L348.3,374.3Z" fill="#5a98d6" stroke="#101820" stroke-width="0.85"/>
<path d="M370.2,359.1L373.6,362.5L370.2,365.8L366.9,362.5Z" fill="#5a98d6" stroke="#101820" stroke-width="0.85"/>
<path d="M353.2,369.6L356.6,372.9L353.2,376.3L349.9,372.9Z" fill="#5a98d6" stroke="#101820" stroke-width="0.85"/>
<path d="M379.0,340.6L382.4,344.0L379.0,347.4L375.6,344.0Z" fill="#5a98d6" stroke="#101820" stroke-width="0.85"/>
<path d="M352.1,371.2L355.5,374.6L352.1,378.0L348.8,374.6Z" fill="#5a98d6" stroke="#101820" stroke-width="0.85"/>
<path d="M356.5,365.2L359.9,368.5L356.5,371.9L353.2,368.5Z" fill="#5a98d6" stroke="#101820" stroke-width="0.85"/>
<path d="M384.8,345.9L388.2,349.3L384.8,352.7L381.4,349.3Z" fill="#5a98d6" stroke="#101820" stroke-width="0.85"/>
<path d="M391.0,333.6L394.4,337.0L391.0,340.4L387.6,337.0Z" fill="#5a98d6" stroke="#101820" stroke-width="0.85"/>
<path d="M367.7,355.6L371.1,359.0L367.7,362.3L364.4,359.0Z" fill="#5a98d6" stroke="#101820" stroke-width="0.85"/>
<path d="M351.6,369.6L355.0,372.9L351.6,376.3L348.3,372.9Z" fill="#5a98d6" stroke="#101820" stroke-width="0.85"/>
<path d="M377.4,350.9L380.8,354.3L377.4,357.6L374.1,354.3Z" fill="#5a98d6" stroke="#101820" stroke-width="0.85"/>
<path d="M376.3,345.9L379.7,349.3L376.3,352.7L372.9,349.3Z" fill="#5a98d6" stroke="#101820" stroke-width="0.85"/>
<path d="M386.0,341.1L389.4,344.5L386.0,347.9L382.6,344.5Z" fill="#5a98d6" stroke="#101820" stroke-width="0.85"/>
<path d="M389.3,339.9L392.7,343.2L389.3,346.6L386.0,343.2Z" fill="#5a98d6" stroke="#101820" stroke-width="0.85"/>
<path d="M356.1,366.0L359.5,369.4L356.1,372.7L352.8,369.4Z" fill="#5a98d6" stroke="#101820" stroke-width="0.85"/>
<path d="M373.9,365.2L377.2,368.6L373.9,372.0L370.5,368.6Z" fill="#5a98d6" stroke="#101820" stroke-width="0.85"/>
<path d="M375.0,350.9L378.4,354.2L375.0,357.6L371.7,354.2Z" fill="#5a98d6" stroke="#101820" stroke-width="0.85"/>
<path d="M355.0,367.1L358.4,370.4L355.0,373.8L351.7,370.4Z" fill="#5a98d6" stroke="#101820" stroke-width="0.85"/>
<path d="M385.6,345.8L389.0,349.1L385.6,352.5L382.2,349.1Z" fill="#5a98d6" stroke="#101820" stroke-width="0.85"/>
<path d="M352.4,370.0L355.7,373.3L352.4,376.7L349.0,373.3Z" fill="#5a98d6" stroke="#101820" stroke-width="0.85"/>
<path d="M365.5,361.5L368.9,364.9L365.5,368.2L362.1,364.9Z" fill="#5a98d6" stroke="#101820" stroke-width="0.85"/>
<path d="M350.5,371.2L353.9,374.6L350.5,378.0L347.2,374.6Z" fill="#5a98d6" stroke="#101820" stroke-width="0.85"/>
<path d="M353.1,367.9L356.4,371.3L353.1,374.6L349.7,371.3Z" fill="#5a98d6" stroke="#101820" stroke-width="0.85"/>
<path d="M405.5,337.3L408.9,340.7L405.5,344.1L402.1,340.7Z" fill="#5a98d6" stroke="#101820" stroke-width="0.85"/>
<path d="M352.7,370.3L356.1,373.7L352.7,377.0L349.4,373.7Z" fill="#5a98d6" stroke="#101820" stroke-width="0.85"/>
<path d="M392.2,343.6L395.5,346.9L392.2,350.3L388.8,346.9Z" fill="#5a98d6" stroke="#101820" stroke-width="0.85"/>
<path d="M364.6,359.6L367.9,362.9L364.6,366.3L361.2,362.9Z" fill="#5a98d6" stroke="#101820" stroke-width="0.85"/>
<path d="M431.3,294.1L434.7,297.5L431.3,300.9L427.9,297.5Z" fill="#5a98d6" stroke="#101820" stroke-width="0.85"/>
<path d="M381.1,341.1L384.5,344.5L381.1,347.9L377.8,344.5Z" fill="#5a98d6" stroke="#101820" stroke-width="0.85"/>
<path d="M408.3,315.9L411.7,319.3L408.3,322.7L404.9,319.3Z" fill="#5a98d6" stroke="#101820" stroke-width="0.85"/>
<path d="M356.7,364.7L360.0,368.0L356.7,371.4L353.3,368.0Z" fill="#5a98d6" stroke="#101820" stroke-width="0.85"/>
<path d="M352.4,368.7L355.8,372.0L352.4,375.4L349.1,372.0Z" fill="#5a98d6" stroke="#101820" stroke-width="0.85"/>
<path d="M416.1,304.4L419.5,307.8L416.1,311.2L412.8,307.8Z" fill="#5a98d6" stroke="#101820" stroke-width="0.85"/>
<path d="M351.5,371.2L354.9,374.6L351.5,378.0L348.2,374.6Z" fill="#5a98d6" stroke="#101820" stroke-width="0.85"/>
<path d="M381.8,339.4L385.2,342.8L381.8,346.2L378.4,342.8Z" fill="#5a98d6" stroke="#101820" stroke-width="0.85"/>
<path d="M385.4,330.9L388.8,334.3L385.4,337.7L382.0,334.3Z" fill="#5a98d6" stroke="#101820" stroke-width="0.85"/>
<path d="M394.6,339.8L398.0,343.1L394.6,346.5L391.2,343.1Z" fill="#5a98d6" stroke="#101820" stroke-width="0.85"/>
<path d="M365.9,361.1L369.2,364.5L365.9,367.8L362.5,364.5Z" fill="#5a98d6" stroke="#101820" stroke-width="0.85"/>
<path d="M357.3,366.7L360.6,370.1L357.3,373.4L353.9,370.1Z" fill="#5a98d6" stroke="#101820" stroke-width="0.85"/>
<path d="M353.3,368.3L356.6,371.6L353.3,375.0L349.9,371.6Z" fill="#5a98d6" stroke="#101820" stroke-width="0.85"/>
<path d="M387.4,345.6L390.7,349.0L387.4,352.3L384.0,349.0Z" fill="#5a98d6" stroke="#101820" stroke-width="0.85"/>
<path d="M351.6,370.3L354.9,373.6L351.6,377.0L348.2,373.6Z" fill="#5a98d6" stroke="#101820" stroke-width="0.85"/>
<path d="M417.3,323.8L420.7,327.1L417.3,330.5L413.9,327.1Z" fill="#5a98d6" stroke="#101820" stroke-width="0.85"/>
<path d="M380.0,336.6L383.4,340.0L380.0,343.4L376.6,340.0Z" fill="#5a98d6" stroke="#101820" stroke-width="0.85"/>
<path d="M401.7,330.9L405.1,334.3L401.7,337.7L398.3,334.3Z" fill="#5a98d6" stroke="#101820" stroke-width="0.85"/>
<path d="M354.8,368.4L358.2,371.7L354.8,375.1L351.5,371.7Z" fill="#5a98d6" stroke="#101820" stroke-width="0.85"/>
<path d="M351.4,369.6L354.7,372.9L351.4,376.3L348.0,372.9Z" fill="#5a98d6" stroke="#101820" stroke-width="0.85"/>
<path d="M392.9,338.3L396.3,341.6L392.9,345.0L389.6,341.6Z" fill="#5a98d6" stroke="#101820" stroke-width="0.85"/>
<path d="M367.3,355.7L370.7,359.1L367.3,362.4L364.0,359.1Z" fill="#5a98d6" stroke="#101820" stroke-width="0.85"/>
<path d="M401.9,330.6L405.2,334.0L401.9,337.4L398.5,334.0Z" fill="#5a98d6" stroke="#101820" stroke-width="0.85"/>
<path d="M351.6,371.2L355.0,374.6L351.6,378.0L348.3,374.6Z" fill="#5a98d6" stroke="#101820" stroke-width="0.85"/>
<path d="M360.7,360.3L364.1,363.7L360.7,367.1L357.3,363.7Z" fill="#5a98d6" stroke="#101820" stroke-width="0.85"/>
<path d="M357.0,354.3L360.4,357.7L357.0,361.1L353.6,357.7Z" fill="#5a98d6" stroke="#101820" stroke-width="0.85"/>
<path d="M353.3,370.5L356.7,373.9L353.3,377.2L350.0,373.9Z" fill="#5a98d6" stroke="#101820" stroke-width="0.85"/>
<path d="M391.4,341.1L394.8,344.5L391.4,347.9L388.0,344.5Z" fill="#5a98d6" stroke="#101820" stroke-width="0.85"/>
<path d="M376.3,349.6L379.7,352.9L376.3,356.3L373.0,352.9Z" fill="#5a98d6" stroke="#101820" stroke-width="0.85"/>
<path d="M386.2,339.8L389.6,343.1L386.2,346.5L382.8,343.1Z" fill="#5a98d6" stroke="#101820" stroke-width="0.85"/>
<path d="M369.7,347.8L373.1,351.1L369.7,354.5L366.3,351.1Z" fill="#5a98d6" stroke="#101820" stroke-width="0.85"/>
<path d="M352.0,370.5L355.3,373.9L352.0,377.2L348.6,373.9Z" fill="#5a98d6" stroke="#101820" stroke-width="0.85"/>
<path d="M387.0,350.9L390.4,354.3L387.0,357.6L383.7,354.3Z" fill="#5a98d6" stroke="#101820" stroke-width="0.85"/>
<path d="M351.2,371.2L354.6,374.6L351.2,378.0L347.9,374.6Z" fill="#5a98d6" stroke="#101820" stroke-width="0.85"/>
<path d="M351.7,371.2L355.0,374.6L351.7,378.0L348.3,374.6Z" fill="#5a98d6" stroke="#101820" stroke-width="0.85"/>
<path d="M351.1,371.2L354.4,374.6L351.1,378.0L347.7,374.6Z" fill="#5a98d6" stroke="#101820" stroke-width="0.85"/>
<path d="M482.1,290.8L485.5,294.1L482.1,297.5L478.8,294.1Z" fill="#5a98d6" stroke="#101820" stroke-width="0.85"/>
<path d="M384.8,331.4L388.2,334.8L384.8,338.2L381.4,334.8Z" fill="#5a98d6" stroke="#101820" stroke-width="0.85"/>
<path d="M425.8,318.9L429.2,322.3L425.8,325.7L422.4,322.3Z" fill="#5a98d6" stroke="#101820" stroke-width="0.85"/>
<path d="M350.3,371.2L353.7,374.6L350.3,378.0L347.0,374.6Z" fill="#5a98d6" stroke="#101820" stroke-width="0.85"/>
<path d="M372.7,359.1L376.1,362.5L372.7,365.9L369.3,362.5Z" fill="#5a98d6" stroke="#101820" stroke-width="0.85"/>
<path d="M397.0,325.8L400.4,329.2L397.0,332.6L393.6,329.2Z" fill="#5a98d6" stroke="#101820" stroke-width="0.85"/>
<path d="M376.6,351.3L380.0,354.7L376.6,358.0L373.3,354.7Z" fill="#5a98d6" stroke="#101820" stroke-width="0.85"/>
<path d="M352.5,370.0L355.9,373.4L352.5,376.7L349.2,373.4Z" fill="#5a98d6" stroke="#101820" stroke-width="0.85"/>
<path d="M372.6,355.0L376.0,358.4L372.6,361.7L369.3,358.4Z" fill="#5a98d6" stroke="#101820" stroke-width="0.85"/>
<path d="M430.1,313.3L433.5,316.7L430.1,320.1L426.8,316.7Z" fill="#5a98d6" stroke="#101820" stroke-width="0.85"/>
<path d="M353.4,367.4L356.8,370.8L353.4,374.1L350.1,370.8Z" fill="#5a98d6" stroke="#101820" stroke-width="0.85"/>
<path d="M349.8,370.0L353.2,373.4L349.8,376.8L346.4,373.4Z" fill="#5a98d6" stroke="#101820" stroke-width="0.85"/>
<path d="M410.7,337.0L414.1,340.4L410.7,343.8L407.3,340.4Z" fill="#5a98d6" stroke="#101820" stroke-width="0.85"/>
<path d="M351.9,371.2L355.3,374.6L351.9,378.0L348.6,374.6Z" fill="#5a98d6" stroke="#101820" stroke-width="0.85"/>
<path d="M417.4,323.6L420.8,327.0L417.4,330.4L414.0,327.0Z" fill="#5a98d6" stroke="#101820" stroke-width="0.85"/>
<path d="M370.9,362.8L374.2,366.1L370.9,369.5L367.5,366.1Z" fill="#5a98d6" stroke="#101820" stroke-width="0.85"/>
<path d="M351.8,367.7L355.2,371.1L351.8,374.4L348.5,371.1Z" fill="#5a98d6" stroke="#101820" stroke-width="0.85"/>
<path d="M350.9,371.2L354.3,374.6L350.9,378.0L347.6,374.6Z" fill="#5a98d6" stroke="#101820" stroke-width="0.85"/>
<path d="M353.2,368.9L356.5,372.2L353.2,375.6L349.8,372.2Z" fill="#5a98d6" stroke="#101820" stroke-width="0.85"/>
<path d="M350.7,369.3L354.0,372.6L350.7,376.0L347.3,372.6Z" fill="#5a98d6" stroke="#101820" stroke-width="0.85"/>
<path d="M352.6,368.3L356.0,371.6L352.6,375.0L349.3,371.6Z" fill="#5a98d6" stroke="#101820" stroke-width="0.85"/>
<path d="M358.2,363.4L361.5,366.8L358.2,370.1L354.8,366.8Z" fill="#5a98d6" stroke="#101820" stroke-width="0.85"/>
<path d="M350.4,371.0L353.8,374.4L350.4,377.7L347.1,374.4Z" fill="#5a98d6" stroke="#101820" stroke-width="0.85"/>
<path d="M353.4,365.2L356.8,368.5L353.4,371.9L350.1,368.5Z" fill="#5a98d6" stroke="#101820" stroke-width="0.85"/>
<path d="M386.0,324.3L389.4,327.7L386.0,331.1L382.6,327.7Z" fill="#5a98d6" stroke="#101820" stroke-width="0.85"/>
<path d="M352.1,371.2L355.4,374.6L352.1,378.0L348.7,374.6Z" fill="#5a98d6" stroke="#101820" stroke-width="0.85"/>
<path d="M353.4,361.5L356.8,364.9L353.4,368.2L350.0,364.9Z" fill="#5a98d6" stroke="#101820" stroke-width="0.85"/>
<path d="M353.1,369.5L356.5,372.8L353.1,376.2L349.8,372.8Z" fill="#5a98d6" stroke="#101820" stroke-width="0.85"/>
<path d="M351.4,370.3L354.8,373.6L351.4,377.0L348.1,373.6Z" fill="#5a98d6" stroke="#101820" stroke-width="0.85"/>
<path d="M353.0,369.7L356.3,373.1L353.0,376.4L349.6,373.1Z" fill="#5a98d6" stroke="#101820" stroke-width="0.85"/>
<path d="M354.1,365.9L357.5,369.2L354.1,372.6L350.8,369.2Z" fill="#5a98d6" stroke="#101820" stroke-width="0.85"/>
<path d="M354.5,368.8L357.8,372.1L354.5,375.5L351.1,372.1Z" fill="#5a98d6" stroke="#101820" stroke-width="0.85"/>
<path d="M351.9,370.4L355.3,373.7L351.9,377.1L348.6,373.7Z" fill="#5a98d6" stroke="#101820" stroke-width="0.85"/>
<path d="M356.8,364.5L360.2,367.8L356.8,371.2L353.5,367.8Z" fill="#5a98d6" stroke="#101820" stroke-width="0.85"/>
<path d="M352.8,368.0L356.1,371.3L352.8,374.7L349.4,371.3Z" fill="#5a98d6" stroke="#101820" stroke-width="0.85"/>
<path d="M369.1,357.9L372.5,361.3L369.1,364.7L365.8,361.3Z" fill="#5a98d6" stroke="#101820" stroke-width="0.85"/>
<path d="M409.5,321.9L412.9,325.3L409.5,328.7L406.1,325.3Z" fill="#5a98d6" stroke="#101820" stroke-width="0.85"/>
<path d="M372.1,356.2L375.4,359.5L372.1,362.9L368.7,359.5Z" fill="#5a98d6" stroke="#101820" stroke-width="0.85"/>
<path d="M394.5,338.2L397.9,341.6L394.5,345.0L391.1,341.6Z" fill="#5a98d6" stroke="#101820" stroke-width="0.85"/>
<path d="M374.3,352.5L377.7,355.9L374.3,359.2L371.0,355.9Z" fill="#5a98d6" stroke="#101820" stroke-width="0.85"/>
<path d="M385.2,347.6L388.6,350.9L385.2,354.3L381.9,350.9Z" fill="#5a98d6" stroke="#101820" stroke-width="0.85"/>
<path d="M383.3,348.2L386.6,351.6L383.3,354.9L379.9,351.6Z" fill="#5a98d6" stroke="#101820" stroke-width="0.85"/>
<path d="M351.5,367.9L354.9,371.3L351.5,374.6L348.2,371.3Z" fill="#5a98d6" stroke="#101820" stroke-width="0.85"/>
<path d="M370.9,354.3L374.2,357.7L370.9,361.1L367.5,357.7Z" fill="#5a98d6" stroke="#101820" stroke-width="0.85"/>
<path d="M352.0,369.6L355.3,373.0L352.0,376.3L348.6,373.0Z" fill="#5a98d6" stroke="#101820" stroke-width="0.85"/>
<path d="M353.0,369.3L356.3,372.7L353.0,376.0L349.6,372.7Z" fill="#5a98d6" stroke="#101820" stroke-width="0.85"/>
<path d="M386.4,345.2L389.8,348.5L386.4,351.9L383.1,348.5Z" fill="#5a98d6" stroke="#101820" stroke-width="0.85"/>
<path d="M356.9,366.3L360.3,369.7L356.9,373.0L353.6,369.7Z" fill="#5a98d6" stroke="#101820" stroke-width="0.85"/>
<path d="M360.7,356.8L364.1,360.1L360.7,363.5L357.3,360.1Z" fill="#5a98d6" stroke="#101820" stroke-width="0.85"/>
<path d="M366.6,359.2L369.9,362.5L366.6,365.9L363.2,362.5Z" fill="#5a98d6" stroke="#101820" stroke-width="0.85"/>
<path d="M366.6,362.8L369.9,366.2L366.6,369.5L363.2,366.2Z" fill="#5a98d6" stroke="#101820" stroke-width="0.85"/>
<path d="M391.0,340.9L394.4,344.3L391.0,347.7L387.6,344.3Z" fill="#5a98d6" stroke="#101820" stroke-width="0.85"/>

</svg>
</body></html>
